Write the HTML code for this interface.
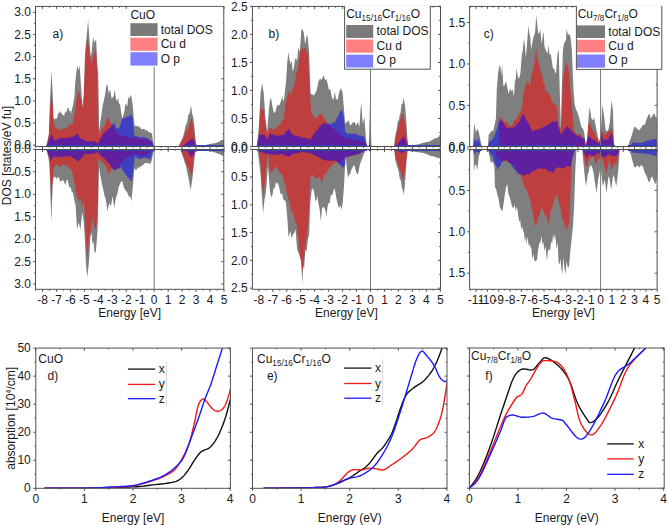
<!DOCTYPE html>
<html><head><meta charset="utf-8"><style>
html,body{margin:0;padding:0;background:#fff;}
svg{display:block;}
text{font-family:"Liberation Sans",sans-serif;fill:#1a1a1a;}
</style></head><body>
<svg width="668" height="525" viewBox="0 0 668 525">
<rect x="0" y="0" width="668" height="525" fill="#fff"/>
<g shape-rendering="geometricPrecision">
<clipPath id="g1"><polygon points="46.3,146.4 46.3,146.0 47.6,139.8 48.9,133.9 49.4,117.7 50.1,98.5 51.4,70.6 52.6,90.9 53.5,117.7 54.4,120.0 55.3,117.9 56.2,119.1 57.2,117.5 58.2,112.7 59.2,113.4 60.2,111.0 61.5,113.4 62.9,115.0 64.1,116.1 65.3,111.1 66.3,113.2 67.3,108.4 68.3,107.0 69.2,110.9 70.1,110.4 71.0,113.7 72.0,108.7 72.9,106.0 74.4,96.2 75.4,80.8 77.2,65.6 78.4,70.6 79.7,65.6 81.0,85.8 82.5,107.0 83.8,93.5 85.0,52.9 86.8,35.2 88.1,20.1 89.8,45.3 90.8,57.3 91.8,50.4 93.1,36.7 94.4,42.8 96.1,39.0 97.2,62.8 98.2,73.2 99.3,131.2 100.4,121.1 101.6,113.6 102.7,105.6 103.8,101.0 105.0,95.0 106.2,86.5 107.4,84.0 108.7,93.5 110.1,89.4 111.7,98.5 112.7,97.6 113.8,95.7 114.8,89.4 115.9,98.5 117.1,101.6 118.2,97.5 119.1,104.5 120.0,103.5 120.9,110.3 122.2,119.1 123.2,115.7 124.3,112.0 125.3,104.6 126.3,104.3 127.3,106.6 128.3,97.2 129.3,98.5 131.0,94.4 132.7,105.2 134.4,125.4 135.7,126.0 136.9,126.2 138.0,125.8 139.1,127.6 140.2,127.0 141.3,129.4 142.5,129.2 143.6,128.7 144.6,128.9 145.6,130.9 146.6,129.4 147.6,130.9 148.6,132.1 149.7,132.4 150.9,132.4 152.0,133.7 153.3,143.8 153.8,146.0 153.8,146.4"/><polygon points="178.7,146.4 178.7,146.0 179.8,143.9 180.9,141.2 182.0,139.4 183.3,135.8 184.7,130.1 185.6,125.7 186.5,124.0 187.4,120.7 188.4,114.5 189.4,114.0 191.1,105.4 192.0,112.7 193.4,118.0 194.7,130.1 196.0,143.4 196.7,145.5 197.7,145.5 198.6,145.5 199.6,145.4 200.5,145.4 201.5,145.5 202.4,145.4 203.4,145.4 204.3,145.1 205.3,145.0 206.2,144.9 207.2,144.6 208.1,144.5 209.1,144.1 210.0,144.1 211.0,143.7 211.9,143.5 212.9,143.7 213.8,143.2 214.8,143.2 215.7,143.1 216.7,142.7 217.7,142.2 218.6,141.8 219.6,141.4 220.5,140.7 221.5,139.8 222.4,140.1 223.4,139.4 223.8,139.0 223.8,146.0 223.8,146.4"/></clipPath>
<polygon points="46.3,146.4 46.3,146.0 47.6,139.8 48.9,133.9 49.4,117.7 50.1,98.5 51.4,70.6 52.6,90.9 53.5,117.7 54.4,120.0 55.3,117.9 56.2,119.1 57.2,117.5 58.2,112.7 59.2,113.4 60.2,111.0 61.5,113.4 62.9,115.0 64.1,116.1 65.3,111.1 66.3,113.2 67.3,108.4 68.3,107.0 69.2,110.9 70.1,110.4 71.0,113.7 72.0,108.7 72.9,106.0 74.4,96.2 75.4,80.8 77.2,65.6 78.4,70.6 79.7,65.6 81.0,85.8 82.5,107.0 83.8,93.5 85.0,52.9 86.8,35.2 88.1,20.1 89.8,45.3 90.8,57.3 91.8,50.4 93.1,36.7 94.4,42.8 96.1,39.0 97.2,62.8 98.2,73.2 99.3,131.2 100.4,121.1 101.6,113.6 102.7,105.6 103.8,101.0 105.0,95.0 106.2,86.5 107.4,84.0 108.7,93.5 110.1,89.4 111.7,98.5 112.7,97.6 113.8,95.7 114.8,89.4 115.9,98.5 117.1,101.6 118.2,97.5 119.1,104.5 120.0,103.5 120.9,110.3 122.2,119.1 123.2,115.7 124.3,112.0 125.3,104.6 126.3,104.3 127.3,106.6 128.3,97.2 129.3,98.5 131.0,94.4 132.7,105.2 134.4,125.4 135.7,126.0 136.9,126.2 138.0,125.8 139.1,127.6 140.2,127.0 141.3,129.4 142.5,129.2 143.6,128.7 144.6,128.9 145.6,130.9 146.6,129.4 147.6,130.9 148.6,132.1 149.7,132.4 150.9,132.4 152.0,133.7 153.3,143.8 153.8,146.0 153.8,146.4" fill="#7f7f7f"/>
<polygon points="178.7,146.4 178.7,146.0 179.8,143.9 180.9,141.2 182.0,139.4 183.3,135.8 184.7,130.1 185.6,125.7 186.5,124.0 187.4,120.7 188.4,114.5 189.4,114.0 191.1,105.4 192.0,112.7 193.4,118.0 194.7,130.1 196.0,143.4 196.7,145.5 197.7,145.5 198.6,145.5 199.6,145.4 200.5,145.4 201.5,145.5 202.4,145.4 203.4,145.4 204.3,145.1 205.3,145.0 206.2,144.9 207.2,144.6 208.1,144.5 209.1,144.1 210.0,144.1 211.0,143.7 211.9,143.5 212.9,143.7 213.8,143.2 214.8,143.2 215.7,143.1 216.7,142.7 217.7,142.2 218.6,141.8 219.6,141.4 220.5,140.7 221.5,139.8 222.4,140.1 223.4,139.4 223.8,139.0 223.8,146.0 223.8,146.4" fill="#7f7f7f"/>
<g clip-path="url(#g1)">
<polygon points="47.6,146.4 47.6,146.0 48.1,140.6 49.1,123.7 50.1,107.0 51.5,92.1 52.8,107.0 54.2,125.8 55.3,127.7 56.4,128.0 57.5,129.9 58.5,129.2 59.5,129.6 60.6,129.8 61.6,128.5 62.7,128.7 63.8,128.3 64.8,128.2 65.9,129.0 67.0,128.5 68.3,125.5 69.6,124.5 70.5,125.2 71.4,123.7 72.3,124.5 73.3,120.8 74.4,115.0 75.4,107.2 76.4,100.2 77.8,93.1 79.1,90.8 80.1,96.7 81.1,98.9 82.1,103.3 83.1,109.6 84.0,84.8 85.0,65.6 86.2,48.4 87.5,37.8 88.7,45.0 89.8,55.5 90.8,58.3 91.8,65.6 93.1,55.0 94.4,52.9 96.1,47.9 97.3,80.0 98.0,120.4 99.3,136.6 100.2,133.5 101.1,130.2 102.0,127.2 102.9,127.4 103.8,126.3 104.7,125.8 105.6,123.5 106.5,119.3 107.4,116.4 108.8,119.6 110.1,121.8 111.0,122.7 111.9,124.9 112.8,125.8 113.8,127.7 114.8,129.4 115.8,131.1 116.8,133.7 117.8,133.5 118.9,135.3 119.9,134.6 121.0,135.3 122.0,136.0 122.9,135.7 123.8,135.8 124.8,136.1 125.7,136.2 126.6,136.5 127.5,137.5 128.5,137.5 129.4,137.7 130.3,137.0 131.2,137.9 132.2,137.4 133.1,138.1 134.0,138.0 134.9,137.7 135.9,138.0 136.8,138.1 137.8,138.7 138.7,138.6 139.6,139.0 140.6,138.5 141.5,139.3 142.5,138.9 143.4,139.3 144.4,139.0 145.3,139.2 146.2,139.3 147.2,140.0 148.1,139.8 149.1,140.1 150.0,140.0 151.0,141.5 152.0,142.8 153.0,144.6 154.0,146.0 154.0,146.4" fill="rgba(255,0,0,0.5)"/>
<polygon points="178.7,146.4 178.7,146.0 179.6,144.3 180.6,142.6 181.5,141.1 182.5,139.5 183.4,138.1 184.5,135.8 185.6,132.9 186.7,130.1 187.6,128.4 188.5,127.2 189.4,124.7 190.4,120.2 191.4,118.0 193.0,124.7 194.3,134.1 196.0,146.0 196.0,146.4" fill="rgba(255,0,0,0.5)"/>
<polygon points="46.3,146.4 46.3,146.0 46.7,144.7 47.7,142.5 48.6,140.2 49.6,138.4 50.5,136.2 51.5,133.9 52.6,136.5 53.7,138.8 54.8,140.6 55.7,140.2 56.6,140.0 57.5,139.6 58.4,138.8 59.3,138.6 60.2,138.0 61.2,137.8 62.1,137.9 63.1,137.7 64.1,138.1 65.1,137.8 66.0,138.2 67.0,138.0 68.0,137.4 68.9,137.8 69.9,137.3 70.8,137.3 71.8,136.6 72.7,136.9 73.7,136.6 74.7,135.8 75.7,134.8 76.7,134.4 77.7,133.9 78.6,135.3 79.5,136.9 80.4,138.0 81.4,138.4 82.3,139.1 83.3,139.7 84.3,139.9 85.3,140.6 86.2,141.0 87.2,141.3 88.2,141.1 89.1,141.1 90.1,141.4 91.0,141.4 92.0,141.1 92.9,141.0 93.9,141.3 94.9,141.8 96.0,142.3 97.0,143.0 98.0,143.3 99.1,141.3 100.1,139.3 101.2,137.8 102.2,135.4 103.3,133.9 104.2,133.2 105.1,131.6 106.0,130.8 106.9,131.0 107.8,130.1 108.7,128.5 109.8,128.0 110.9,127.3 111.9,124.5 113.0,123.9 114.1,123.1 115.0,123.9 115.9,127.2 116.8,128.7 117.7,128.2 118.6,128.2 119.5,127.2 121.0,123.0 122.2,119.0 123.2,117.4 124.2,117.9 125.3,117.6 126.3,117.7 127.3,116.6 128.3,116.0 129.3,117.0 131.0,113.6 132.7,118.7 134.4,135.4 135.4,135.8 136.4,136.3 137.5,136.2 138.5,137.1 139.5,137.5 140.5,137.3 141.6,137.2 142.6,136.9 143.6,137.1 144.6,137.5 145.6,137.7 146.6,137.8 147.6,138.6 148.6,138.8 149.7,139.9 150.7,140.6 151.8,141.5 152.8,142.2 153.6,146.0 153.6,146.4" fill="rgba(0,0,255,0.5)"/>
<polygon points="182.7,146.4 182.7,146.0 183.7,145.2 184.7,144.3 185.7,143.5 186.7,142.7 187.8,141.8 188.9,141.1 190.0,140.1 191.0,139.0 192.0,138.1 193.0,139.3 194.0,140.1 195.0,143.1 196.0,146.0 196.0,146.4" fill="rgba(0,0,255,0.5)"/>
</g>
<clipPath id="g2"><polygon points="46.6,149.3 46.6,149.0 47.5,154.1 48.5,158.2 49.4,163.5 50.6,200.0 51.4,222.0 52.6,185.0 53.2,178.9 54.2,176.8 55.3,176.8 56.3,179.0 57.4,177.4 58.4,176.8 59.4,179.3 60.4,182.0 61.5,180.8 62.5,179.9 63.5,180.5 64.5,183.0 65.5,184.7 66.6,179.9 67.7,179.7 68.7,185.1 69.7,188.3 70.7,187.1 71.8,192.2 72.8,192.3 74.3,200.0 75.7,206.0 77.0,229.4 78.7,222.5 80.5,229.4 82.2,212.2 83.5,219.5 84.8,238.0 86.0,264.9 87.3,277.5 89.1,260.3 90.3,237.1 91.6,232.8 92.5,244.3 93.4,241.4 94.7,253.0 95.9,251.7 97.6,229.4 99.1,166.6 100.2,174.9 101.2,179.9 102.2,185.3 103.2,189.2 104.1,193.8 105.0,197.5 105.9,199.6 107.5,211.4 109.2,203.0 110.9,206.3 112.6,196.3 114.2,208.0 115.9,198.0 117.6,192.9 118.7,187.1 119.7,184.7 120.7,182.2 121.7,181.0 122.7,182.5 123.8,187.6 124.8,189.2 125.8,191.1 126.9,191.8 127.9,194.3 129.1,197.0 130.2,196.3 131.5,201.3 132.7,187.9 134.4,167.8 135.7,170.3 136.9,169.5 138.0,166.5 139.1,168.9 140.2,166.1 141.3,166.6 142.5,165.3 143.6,164.4 144.7,163.0 145.8,163.1 146.9,162.8 148.0,163.5 149.2,163.1 150.3,164.4 152.0,159.4 153.6,149.4 153.8,149.0 153.8,149.3"/><polygon points="180.0,149.3 180.0,149.0 180.3,149.7 181.4,152.5 182.6,156.0 183.8,159.2 184.9,162.9 186.1,166.3 187.2,172.0 188.9,180.0 190.6,190.3 191.7,183.5 192.9,174.3 194.0,162.9 195.2,152.6 196.3,149.7 197.3,149.7 198.3,149.8 199.3,149.9 200.3,150.0 201.3,150.1 202.3,150.2 203.3,150.1 204.3,150.3 205.3,150.4 206.3,150.7 207.3,150.8 208.2,150.8 209.2,151.0 210.2,151.4 211.2,151.4 212.2,151.5 213.1,152.0 214.1,152.3 215.1,152.6 216.1,152.7 217.0,153.4 218.0,153.7 218.9,154.1 219.8,154.1 220.8,155.0 221.7,155.6 222.6,155.4 223.8,156.0 223.8,149.0 223.8,149.3"/></clipPath>
<polygon points="46.6,149.3 46.6,149.0 47.5,154.1 48.5,158.2 49.4,163.5 50.6,200.0 51.4,222.0 52.6,185.0 53.2,178.9 54.2,176.8 55.3,176.8 56.3,179.0 57.4,177.4 58.4,176.8 59.4,179.3 60.4,182.0 61.5,180.8 62.5,179.9 63.5,180.5 64.5,183.0 65.5,184.7 66.6,179.9 67.7,179.7 68.7,185.1 69.7,188.3 70.7,187.1 71.8,192.2 72.8,192.3 74.3,200.0 75.7,206.0 77.0,229.4 78.7,222.5 80.5,229.4 82.2,212.2 83.5,219.5 84.8,238.0 86.0,264.9 87.3,277.5 89.1,260.3 90.3,237.1 91.6,232.8 92.5,244.3 93.4,241.4 94.7,253.0 95.9,251.7 97.6,229.4 99.1,166.6 100.2,174.9 101.2,179.9 102.2,185.3 103.2,189.2 104.1,193.8 105.0,197.5 105.9,199.6 107.5,211.4 109.2,203.0 110.9,206.3 112.6,196.3 114.2,208.0 115.9,198.0 117.6,192.9 118.7,187.1 119.7,184.7 120.7,182.2 121.7,181.0 122.7,182.5 123.8,187.6 124.8,189.2 125.8,191.1 126.9,191.8 127.9,194.3 129.1,197.0 130.2,196.3 131.5,201.3 132.7,187.9 134.4,167.8 135.7,170.3 136.9,169.5 138.0,166.5 139.1,168.9 140.2,166.1 141.3,166.6 142.5,165.3 143.6,164.4 144.7,163.0 145.8,163.1 146.9,162.8 148.0,163.5 149.2,163.1 150.3,164.4 152.0,159.4 153.6,149.4 153.8,149.0 153.8,149.3" fill="#7f7f7f"/>
<polygon points="180.0,149.3 180.0,149.0 180.3,149.7 181.4,152.5 182.6,156.0 183.8,159.2 184.9,162.9 186.1,166.3 187.2,172.0 188.9,180.0 190.6,190.3 191.7,183.5 192.9,174.3 194.0,162.9 195.2,152.6 196.3,149.7 197.3,149.7 198.3,149.8 199.3,149.9 200.3,150.0 201.3,150.1 202.3,150.2 203.3,150.1 204.3,150.3 205.3,150.4 206.3,150.7 207.3,150.8 208.2,150.8 209.2,151.0 210.2,151.4 211.2,151.4 212.2,151.5 213.1,152.0 214.1,152.3 215.1,152.6 216.1,152.7 217.0,153.4 218.0,153.7 218.9,154.1 219.8,154.1 220.8,155.0 221.7,155.6 222.6,155.4 223.8,156.0 223.8,149.0 223.8,149.3" fill="#7f7f7f"/>
<g clip-path="url(#g2)">
<polygon points="46.7,149.3 46.7,149.0 46.7,150.0 47.8,153.5 48.8,156.8 50.1,173.0 51.2,196.4 52.1,199.9 53.2,171.7 54.3,166.6 55.3,166.3 56.3,164.4 57.3,164.5 58.3,165.1 59.4,166.4 60.4,166.6 61.4,165.8 62.5,164.7 63.5,164.5 64.5,164.5 65.6,166.0 66.6,165.5 67.6,165.6 68.7,168.0 69.7,168.6 70.7,169.8 71.7,169.7 73.3,176.8 74.8,185.1 75.8,192.3 76.8,195.7 77.7,197.2 79.1,202.6 80.4,197.2 82.2,207.0 83.9,200.0 85.6,229.4 87.3,260.3 88.2,251.7 89.5,236.6 90.8,229.4 92.5,217.3 93.8,224.5 95.1,229.4 96.8,224.2 98.0,200.0 98.1,160.0 99.1,159.1 100.1,159.4 101.2,161.6 102.2,162.5 103.2,163.0 104.3,164.5 105.3,165.2 106.3,166.6 107.3,171.5 108.4,174.8 109.4,171.7 110.5,171.2 111.5,168.6 112.5,168.0 113.5,169.7 114.5,169.6 115.5,170.0 116.6,169.5 117.6,168.6 118.6,167.3 119.7,165.1 120.7,163.5 121.7,162.5 122.7,161.6 123.8,159.8 124.8,158.9 125.8,158.3 126.8,157.6 127.9,157.8 128.9,156.9 130.0,156.3 131.0,155.8 132.0,155.4 133.0,155.1 134.0,154.4 135.0,154.2 136.0,154.7 136.9,154.5 137.9,154.8 138.8,155.2 139.8,155.1 140.7,155.7 141.7,156.0 142.6,156.0 143.6,156.1 144.5,155.4 145.4,154.7 146.3,154.3 147.2,153.9 148.1,153.0 149.1,152.5 150.0,151.8 150.9,151.1 151.8,150.6 152.7,150.0 153.6,149.4 153.8,149.0 153.8,149.3" fill="rgba(255,0,0,0.5)"/>
<polygon points="179.7,149.3 179.7,149.0 180.7,150.6 181.6,152.0 182.6,153.7 183.7,156.4 184.9,160.3 186.0,162.9 187.0,165.6 187.9,167.5 188.9,168.6 190.1,171.7 191.2,176.6 192.9,168.6 194.0,157.2 195.7,149.0 195.7,149.3" fill="rgba(255,0,0,0.5)"/>
<polygon points="46.6,149.3 46.6,149.0 46.7,150.0 47.9,153.3 49.1,156.3 50.2,158.2 51.2,160.4 52.2,158.7 53.2,156.3 54.2,156.7 55.3,156.9 56.3,157.0 57.3,156.8 58.3,156.9 59.4,157.2 60.4,157.3 61.4,156.7 62.5,156.7 63.5,156.6 64.6,156.2 65.6,156.3 66.6,156.6 67.6,156.4 68.7,156.0 69.7,156.0 70.7,156.3 71.7,156.8 72.7,157.9 73.8,158.4 74.8,158.6 75.8,159.4 76.8,160.8 77.9,161.4 78.9,160.4 80.0,159.5 81.0,158.3 82.0,157.3 83.0,156.4 84.0,154.8 85.0,154.0 86.0,154.0 87.1,154.2 88.1,154.1 89.1,154.1 90.2,154.2 91.2,154.1 92.2,154.0 93.2,153.6 94.2,153.2 95.1,152.9 96.1,152.7 97.1,152.4 98.1,152.2 99.1,153.4 100.2,155.1 101.2,156.3 102.2,156.7 103.2,157.5 104.3,158.2 105.3,159.4 106.3,160.4 107.3,161.8 108.4,163.3 109.4,164.5 110.4,165.1 111.5,167.4 112.5,168.4 113.5,169.7 114.5,170.2 115.5,169.2 116.6,169.0 117.6,168.6 118.6,168.7 119.7,168.0 120.7,166.6 121.7,168.9 122.8,170.8 123.8,171.7 124.8,173.6 125.9,175.0 126.9,175.8 127.9,178.2 129.0,177.8 130.0,179.9 131.0,181.0 132.0,181.0 133.6,166.6 135.0,156.3 136.0,156.8 137.1,157.7 138.1,158.5 139.2,158.4 140.2,159.4 141.2,158.7 142.2,158.3 143.2,157.9 144.2,157.8 145.2,157.7 146.2,158.3 147.2,158.0 148.3,158.6 149.3,159.0 150.3,159.4 151.4,156.0 152.5,152.6 153.6,149.4 153.8,149.0 153.8,149.3" fill="rgba(0,0,255,0.5)"/>
<polygon points="184.9,149.3 184.9,149.0 186.0,150.2 187.2,151.4 188.3,152.6 189.3,154.0 190.2,155.9 191.2,157.2 192.9,154.9 194.6,151.4 195.5,149.0 195.5,149.3" fill="rgba(0,0,255,0.5)"/>
</g>
<clipPath id="g3"><polygon points="256.9,146.4 256.9,146.0 256.9,144.3 257.9,136.2 258.8,127.2 260.5,93.1 262.2,83.4 263.7,93.1 265.4,117.5 267.1,132.1 268.1,119.5 269.1,107.7 270.1,99.3 271.0,98.0 272.7,107.7 273.9,112.7 275.2,112.6 276.2,108.5 277.3,104.9 278.3,105.3 279.3,105.4 280.2,103.3 281.2,100.4 282.2,95.7 283.2,101.5 284.2,98.0 285.1,89.8 286.1,80.9 287.2,63.1 288.4,52.1 289.5,59.8 290.7,64.3 291.7,60.3 292.7,71.4 293.7,68.9 294.9,59.4 296.0,58.2 297.1,60.9 298.3,47.5 299.8,52.1 301.4,29.2 302.5,29.4 303.7,32.2 305.2,44.4 306.4,36.9 307.5,35.3 309.0,50.5 310.5,93.3 312.1,94.8 313.1,94.6 314.0,95.8 315.0,93.5 316.7,90.2 318.4,81.8 320.0,78.4 321.7,80.1 322.7,77.4 323.7,75.1 325.1,80.1 326.4,79.3 327.6,83.5 328.9,90.1 330.1,88.5 331.8,96.9 333.4,100.2 334.8,91.8 335.9,98.5 337.6,100.2 339.3,91.8 341.0,87.7 342.7,93.5 343.5,103.6 345.2,123.7 346.8,122.0 348.5,120.3 350.2,125.4 351.9,123.7 353.1,121.9 354.4,122.0 356.1,125.4 357.7,122.0 359.4,127.0 361.1,101.9 362.8,123.7 364.4,117.0 365.3,130.4 366.1,140.4 367.0,144.6 367.5,146.0 367.5,146.4"/><polygon points="368.9,146.4 368.9,146.0 369.9,105.2 370.4,105.2 371.4,146.0 371.4,146.4"/><polygon points="394.0,146.4 394.0,146.0 394.9,138.6 395.9,132.3 396.9,128.5 397.8,120.9 398.8,120.5 399.7,115.2 400.6,112.6 401.6,103.8 402.6,103.7 403.5,98.0 405.1,105.7 406.4,122.8 407.3,138.0 408.3,145.6 409.2,145.6 410.2,145.4 411.1,145.2 412.1,145.2 413.0,144.9 414.0,145.0 414.9,144.7 415.9,144.7 416.8,144.6 417.8,144.4 418.7,144.3 419.7,143.9 420.6,143.6 421.6,143.2 422.6,143.3 423.5,142.6 424.5,142.7 425.4,142.1 426.4,141.9 427.3,141.9 428.3,141.8 429.2,141.7 430.2,140.9 431.1,140.5 432.1,140.1 433.1,139.6 434.0,138.3 434.9,139.0 435.9,138.0 436.8,137.9 437.8,137.6 438.7,136.8 439.7,134.7 440.6,135.1 440.6,146.0 440.6,146.4"/></clipPath>
<polygon points="256.9,146.4 256.9,146.0 256.9,144.3 257.9,136.2 258.8,127.2 260.5,93.1 262.2,83.4 263.7,93.1 265.4,117.5 267.1,132.1 268.1,119.5 269.1,107.7 270.1,99.3 271.0,98.0 272.7,107.7 273.9,112.7 275.2,112.6 276.2,108.5 277.3,104.9 278.3,105.3 279.3,105.4 280.2,103.3 281.2,100.4 282.2,95.7 283.2,101.5 284.2,98.0 285.1,89.8 286.1,80.9 287.2,63.1 288.4,52.1 289.5,59.8 290.7,64.3 291.7,60.3 292.7,71.4 293.7,68.9 294.9,59.4 296.0,58.2 297.1,60.9 298.3,47.5 299.8,52.1 301.4,29.2 302.5,29.4 303.7,32.2 305.2,44.4 306.4,36.9 307.5,35.3 309.0,50.5 310.5,93.3 312.1,94.8 313.1,94.6 314.0,95.8 315.0,93.5 316.7,90.2 318.4,81.8 320.0,78.4 321.7,80.1 322.7,77.4 323.7,75.1 325.1,80.1 326.4,79.3 327.6,83.5 328.9,90.1 330.1,88.5 331.8,96.9 333.4,100.2 334.8,91.8 335.9,98.5 337.6,100.2 339.3,91.8 341.0,87.7 342.7,93.5 343.5,103.6 345.2,123.7 346.8,122.0 348.5,120.3 350.2,125.4 351.9,123.7 353.1,121.9 354.4,122.0 356.1,125.4 357.7,122.0 359.4,127.0 361.1,101.9 362.8,123.7 364.4,117.0 365.3,130.4 366.1,140.4 367.0,144.6 367.5,146.0 367.5,146.4" fill="#7f7f7f"/>
<polygon points="368.9,146.4 368.9,146.0 369.9,105.2 370.4,105.2 371.4,146.0 371.4,146.4" fill="#7f7f7f"/>
<polygon points="394.0,146.4 394.0,146.0 394.9,138.6 395.9,132.3 396.9,128.5 397.8,120.9 398.8,120.5 399.7,115.2 400.6,112.6 401.6,103.8 402.6,103.7 403.5,98.0 405.1,105.7 406.4,122.8 407.3,138.0 408.3,145.6 409.2,145.6 410.2,145.4 411.1,145.2 412.1,145.2 413.0,144.9 414.0,145.0 414.9,144.7 415.9,144.7 416.8,144.6 417.8,144.4 418.7,144.3 419.7,143.9 420.6,143.6 421.6,143.2 422.6,143.3 423.5,142.6 424.5,142.7 425.4,142.1 426.4,141.9 427.3,141.9 428.3,141.8 429.2,141.7 430.2,140.9 431.1,140.5 432.1,140.1 433.1,139.6 434.0,138.3 434.9,139.0 435.9,138.0 436.8,137.9 437.8,137.6 438.7,136.8 439.7,134.7 440.6,135.1 440.6,146.0 440.6,146.4" fill="#7f7f7f"/>
<g clip-path="url(#g3)">
<polygon points="258.1,146.4 258.1,146.0 258.1,141.9 259.3,127.2 260.5,110.2 261.8,109.2 263.0,107.7 264.2,114.2 265.4,122.4 267.1,134.6 268.1,131.3 269.1,127.2 270.1,128.7 271.0,127.2 272.0,128.2 272.9,129.7 273.9,129.7 274.9,128.8 275.9,127.8 276.8,127.4 277.8,125.9 278.8,124.8 279.8,125.1 280.8,123.0 281.7,121.2 282.7,120.1 283.7,119.9 284.9,109.3 286.1,100.4 287.6,96.0 289.2,90.2 290.4,94.7 291.5,93.3 292.6,88.0 293.7,87.2 294.9,83.6 296.0,73.4 297.1,72.6 298.3,65.8 299.5,57.5 300.6,50.5 302.1,47.5 303.2,48.6 304.4,49.0 305.5,47.0 306.7,52.1 308.2,55.1 309.3,80.0 310.2,96.9 311.2,112.6 312.1,114.5 313.1,113.9 314.1,117.1 315.0,118.7 316.1,117.9 317.3,117.1 318.4,115.3 319.6,115.1 320.9,113.6 322.1,113.9 323.4,117.0 324.5,119.7 325.6,118.9 326.7,122.0 327.8,123.8 329.0,125.0 330.1,125.4 331.1,127.4 332.1,127.8 333.0,129.1 334.0,128.2 335.0,130.0 336.0,130.8 337.0,131.3 338.0,132.6 339.0,133.6 340.0,134.0 341.0,135.1 342.0,136.1 343.0,137.0 344.0,137.5 345.0,138.0 345.9,138.5 346.8,138.4 347.7,138.3 348.6,138.4 349.5,138.6 350.5,139.1 351.4,139.1 352.3,139.8 353.2,139.5 354.1,139.6 355.0,140.0 355.9,140.1 356.8,140.7 357.7,140.6 358.6,140.5 359.5,141.1 360.5,141.3 361.4,141.0 362.3,141.5 363.2,141.5 364.1,142.0 365.0,142.0 366.0,143.9 367.0,146.0 367.0,146.4" fill="rgba(255,0,0,0.5)"/>
<polygon points="394.0,146.4 394.0,146.0 395.0,141.5 395.9,137.1 396.9,132.3 397.8,128.3 398.8,125.8 399.7,120.9 400.9,117.7 402.0,114.7 403.2,113.3 404.1,119.6 405.1,122.8 406.1,131.3 407.0,139.9 408.3,146.0 408.3,146.4" fill="rgba(255,0,0,0.5)"/>
<polygon points="256.9,146.4 256.9,146.0 256.9,144.3 258.1,139.4 259.3,134.6 260.3,134.4 261.3,135.2 262.2,135.1 263.2,134.2 264.2,134.6 265.2,135.9 266.1,137.6 267.1,139.4 268.2,137.8 269.2,135.0 270.3,133.3 271.3,134.3 272.3,134.5 273.4,134.3 274.4,134.6 275.4,135.7 276.4,135.8 277.3,135.4 278.2,135.9 279.1,135.2 280.0,134.9 281.0,135.5 281.9,134.4 282.8,135.1 283.7,134.6 284.8,133.7 285.9,130.9 287.0,130.5 288.1,128.5 289.1,129.5 290.1,131.0 291.2,133.0 292.2,134.6 293.1,134.5 294.1,134.9 295.0,135.8 296.0,135.7 296.9,135.5 297.9,136.6 298.8,136.3 299.8,136.4 300.7,137.0 301.7,137.7 302.7,137.7 303.6,137.7 304.6,137.7 305.6,137.9 306.6,138.3 307.6,138.5 308.5,138.8 309.5,139.0 310.5,139.4 311.4,137.8 312.3,136.6 313.2,134.8 314.1,133.1 315.0,132.1 316.1,131.0 317.3,129.8 318.4,128.7 319.4,126.6 320.4,125.7 321.4,125.6 322.4,123.7 323.4,122.8 324.4,123.9 325.5,123.3 326.6,122.9 327.6,123.7 328.7,123.7 329.7,123.8 330.8,124.5 331.8,123.7 332.9,122.6 334.0,123.1 335.1,122.0 336.2,119.6 337.4,117.6 338.5,115.3 339.6,112.2 340.7,110.5 341.8,110.3 343.5,115.3 345.2,132.1 346.3,132.4 347.4,133.7 348.5,133.7 349.5,133.4 350.4,133.7 351.4,133.7 352.3,133.4 353.3,133.7 354.2,133.6 355.2,133.7 356.2,133.7 357.2,134.7 358.2,135.1 359.2,135.5 360.2,135.4 361.2,135.4 362.3,135.8 363.3,136.3 364.4,137.1 366.1,143.8 367.0,146.0 367.0,146.4" fill="rgba(0,0,255,0.5)"/>
<polygon points="368.8,146.4 368.8,146.0 369.5,140.4 370.5,140.0 371.2,146.0 371.2,146.4" fill="rgba(0,0,255,0.5)"/>
<polygon points="395.0,146.4 395.0,146.0 395.9,145.1 396.9,144.4 397.8,143.6 398.8,142.7 399.7,141.8 400.6,140.2 401.6,139.0 402.6,137.5 403.5,136.1 404.6,138.0 405.8,139.9 407.3,146.0 407.3,146.4" fill="rgba(0,0,255,0.5)"/>
</g>
<clipPath id="g4"><polygon points="257.5,149.3 257.5,149.0 258.9,160.0 260.4,173.0 261.7,193.2 263.1,213.4 264.5,199.5 265.8,193.2 266.8,181.9 267.8,166.2 268.8,176.1 269.8,190.5 271.2,197.2 272.5,195.0 273.9,186.4 274.8,189.0 275.7,181.9 276.6,183.7 278.0,183.0 279.3,187.8 280.6,194.6 282.0,193.2 283.3,199.5 284.6,199.9 285.9,202.4 287.1,215.0 288.6,237.8 290.3,230.9 291.6,238.6 292.9,234.4 294.2,233.0 295.5,229.2 297.2,249.8 298.5,252.8 299.8,256.7 301.1,261.0 302.3,284.2 303.2,265.7 304.1,268.7 305.4,249.4 306.6,251.5 307.9,239.5 309.2,234.4 310.1,205.0 311.6,190.5 313.0,188.0 314.3,193.2 315.3,200.2 316.3,201.2 317.3,195.5 318.3,202.6 319.6,209.0 320.8,221.2 322.0,208.4 323.2,206.8 324.3,207.8 325.3,209.9 326.4,216.4 327.5,207.3 328.5,202.7 329.6,203.6 330.8,194.9 332.0,195.6 333.1,192.4 334.1,188.3 335.2,190.8 336.3,198.1 337.3,202.2 338.4,206.8 339.5,207.5 340.5,205.2 341.6,210.0 342.8,201.9 344.0,186.0 345.6,155.6 346.8,167.8 348.0,178.0 349.1,174.2 350.1,174.4 351.2,170.0 352.3,168.1 353.3,165.7 354.4,165.2 355.5,169.7 356.5,173.1 357.6,174.8 358.7,171.3 359.7,165.3 360.8,162.0 361.9,159.0 362.9,156.4 364.0,154.0 365.0,151.7 366.0,149.0 366.0,149.3"/><polygon points="394.0,149.3 394.0,149.0 395.5,160.9 396.6,164.8 397.8,168.5 398.8,171.7 399.7,178.6 400.7,179.9 401.9,187.7 403.2,191.4 403.9,195.2 405.1,181.8 406.4,162.8 407.7,150.5 408.8,150.7 409.8,151.0 410.9,151.2 411.9,151.4 413.0,151.4 414.0,151.6 414.9,151.7 415.9,151.8 416.8,152.2 417.8,152.3 418.8,152.1 419.7,152.5 420.7,152.5 421.6,152.8 422.6,153.1 423.5,152.8 424.5,153.3 425.4,153.9 426.4,154.0 427.4,154.5 428.3,155.0 429.2,155.6 430.2,155.3 431.2,156.2 432.1,156.2 433.0,155.9 434.0,156.7 434.9,156.6 435.9,158.0 436.8,157.3 437.8,157.7 438.7,158.4 439.7,158.0 440.6,159.0 440.6,149.0 440.6,149.3"/></clipPath>
<polygon points="257.5,149.3 257.5,149.0 258.9,160.0 260.4,173.0 261.7,193.2 263.1,213.4 264.5,199.5 265.8,193.2 266.8,181.9 267.8,166.2 268.8,176.1 269.8,190.5 271.2,197.2 272.5,195.0 273.9,186.4 274.8,189.0 275.7,181.9 276.6,183.7 278.0,183.0 279.3,187.8 280.6,194.6 282.0,193.2 283.3,199.5 284.6,199.9 285.9,202.4 287.1,215.0 288.6,237.8 290.3,230.9 291.6,238.6 292.9,234.4 294.2,233.0 295.5,229.2 297.2,249.8 298.5,252.8 299.8,256.7 301.1,261.0 302.3,284.2 303.2,265.7 304.1,268.7 305.4,249.4 306.6,251.5 307.9,239.5 309.2,234.4 310.1,205.0 311.6,190.5 313.0,188.0 314.3,193.2 315.3,200.2 316.3,201.2 317.3,195.5 318.3,202.6 319.6,209.0 320.8,221.2 322.0,208.4 323.2,206.8 324.3,207.8 325.3,209.9 326.4,216.4 327.5,207.3 328.5,202.7 329.6,203.6 330.8,194.9 332.0,195.6 333.1,192.4 334.1,188.3 335.2,190.8 336.3,198.1 337.3,202.2 338.4,206.8 339.5,207.5 340.5,205.2 341.6,210.0 342.8,201.9 344.0,186.0 345.6,155.6 346.8,167.8 348.0,178.0 349.1,174.2 350.1,174.4 351.2,170.0 352.3,168.1 353.3,165.7 354.4,165.2 355.5,169.7 356.5,173.1 357.6,174.8 358.7,171.3 359.7,165.3 360.8,162.0 361.9,159.0 362.9,156.4 364.0,154.0 365.0,151.7 366.0,149.0 366.0,149.3" fill="#7f7f7f"/>
<polygon points="394.0,149.3 394.0,149.0 395.5,160.9 396.6,164.8 397.8,168.5 398.8,171.7 399.7,178.6 400.7,179.9 401.9,187.7 403.2,191.4 403.9,195.2 405.1,181.8 406.4,162.8 407.7,150.5 408.8,150.7 409.8,151.0 410.9,151.2 411.9,151.4 413.0,151.4 414.0,151.6 414.9,151.7 415.9,151.8 416.8,152.2 417.8,152.3 418.8,152.1 419.7,152.5 420.7,152.5 421.6,152.8 422.6,153.1 423.5,152.8 424.5,153.3 425.4,153.9 426.4,154.0 427.4,154.5 428.3,155.0 429.2,155.6 430.2,155.3 431.2,156.2 432.1,156.2 433.0,155.9 434.0,156.7 434.9,156.6 435.9,158.0 436.8,157.3 437.8,157.7 438.7,158.4 439.7,158.0 440.6,159.0 440.6,149.0 440.6,149.3" fill="#7f7f7f"/>
<g clip-path="url(#g4)">
<polygon points="258.9,149.3 258.9,149.0 259.0,151.4 260.4,162.2 261.7,179.7 263.1,194.5 264.1,188.5 265.1,179.7 266.1,168.6 267.1,159.5 268.5,154.1 269.2,166.2 270.5,173.0 271.5,172.7 272.5,170.3 273.9,169.3 275.2,166.2 276.5,167.5 277.9,168.9 278.8,170.5 279.7,173.0 280.6,173.0 282.0,175.1 283.3,178.3 284.3,182.4 285.3,185.1 286.3,190.9 287.3,196.0 288.6,198.4 290.0,205.0 290.9,210.3 291.8,209.8 292.8,215.2 293.7,212.6 294.6,220.0 295.5,222.3 296.6,225.1 297.8,233.7 298.9,243.0 300.2,257.7 301.5,267.0 302.3,270.4 303.2,268.1 304.1,256.7 305.4,246.1 306.6,237.8 308.4,220.6 309.4,200.0 310.4,178.0 311.6,174.9 312.8,174.8 313.9,176.6 314.9,177.9 316.0,178.0 317.1,178.8 318.1,177.5 319.2,176.4 320.4,178.6 321.6,182.8 322.8,180.2 324.0,174.8 325.1,174.6 326.1,173.6 327.2,171.6 328.3,169.5 329.3,168.7 330.4,166.8 331.5,166.4 332.5,164.7 333.6,163.6 334.7,162.9 335.7,163.3 336.8,162.0 337.9,161.8 338.9,163.0 340.0,163.0 341.0,162.2 342.0,160.4 343.0,159.8 344.0,158.0 345.2,157.2 346.4,157.2 347.3,156.8 348.2,156.7 349.1,156.7 350.1,155.9 351.0,156.4 351.9,155.7 352.8,155.6 353.7,155.1 354.6,154.9 355.5,154.8 356.5,154.4 357.4,154.3 358.3,154.4 359.2,154.0 360.2,153.3 361.1,152.7 362.1,152.0 363.0,151.3 364.0,150.8 365.6,149.0 365.6,149.3" fill="rgba(255,0,0,0.5)"/>
<polygon points="394.0,149.3 394.0,149.0 394.9,154.2 395.9,159.0 396.9,160.8 397.8,163.3 398.8,166.6 399.7,170.1 400.7,171.8 401.6,175.9 402.6,178.7 403.5,180.0 404.4,174.3 405.4,168.5 406.4,159.9 407.3,150.5 407.5,149.0 407.5,149.3" fill="rgba(255,0,0,0.5)"/>
<polygon points="257.5,149.3 257.5,149.0 259.0,151.4 260.0,151.8 261.1,152.1 262.1,152.5 263.1,152.7 264.2,152.9 265.3,153.2 266.3,153.7 267.4,153.7 268.5,154.1 269.5,154.1 270.4,154.5 271.4,154.5 272.3,154.5 273.3,154.5 274.2,154.9 275.2,154.8 276.2,154.9 277.1,154.8 278.1,154.6 279.1,154.5 280.1,154.3 281.0,154.0 282.0,154.1 283.0,154.5 283.9,154.9 284.9,155.5 285.8,155.4 286.8,155.9 287.7,156.1 288.7,156.8 289.7,156.2 290.7,155.2 291.7,154.8 292.7,154.1 293.6,153.7 294.6,153.6 295.6,153.4 296.5,153.4 297.4,153.0 298.4,153.0 299.3,152.6 300.3,152.6 301.2,152.2 302.2,152.1 303.2,152.3 304.1,152.3 305.1,152.4 306.0,152.5 307.0,152.5 307.9,152.6 308.9,152.7 309.9,153.2 310.8,153.4 311.8,153.7 312.7,154.4 313.7,154.9 314.6,155.2 315.6,155.4 316.6,156.0 317.5,156.9 318.5,157.2 319.5,157.9 320.5,158.3 321.4,158.9 322.4,159.5 323.4,160.0 324.3,160.0 325.3,160.4 326.2,160.3 327.2,160.5 328.1,160.7 329.1,160.8 330.1,160.5 331.0,160.7 332.0,160.6 333.0,160.7 334.0,160.5 334.9,160.5 335.9,160.8 336.8,161.6 337.7,162.6 338.6,163.5 339.6,164.6 340.6,165.1 341.6,167.2 342.6,167.6 343.7,166.9 344.8,166.0 346.4,157.2 347.3,157.0 348.2,156.5 349.1,156.6 350.1,156.3 351.0,156.1 351.9,155.6 352.8,155.6 353.7,155.5 354.6,155.2 355.5,154.8 356.5,154.4 357.4,154.7 358.3,154.2 359.2,154.0 360.2,153.4 361.1,152.9 362.1,152.1 363.0,151.4 364.0,150.8 365.6,149.0 365.6,149.3" fill="rgba(0,0,255,0.5)"/>
<polygon points="397.8,149.3 397.8,149.0 397.8,150.5 398.8,151.2 399.7,151.8 400.7,152.6 401.6,153.3 402.6,152.8 403.5,152.3 404.4,151.5 405.4,151.0 405.5,149.0 405.5,149.3" fill="rgba(0,0,255,0.5)"/>
</g>
<clipPath id="g5"><polygon points="473.0,146.4 473.0,146.0 473.7,131.4 474.4,122.9 475.9,132.9 477.3,128.6 478.7,131.4 480.1,138.6 481.6,146.0 481.6,146.4"/><polygon points="488.0,146.4 488.0,146.0 488.7,134.3 489.8,133.9 490.9,131.4 491.9,130.3 493.0,132.1 494.4,125.7 495.9,118.6 496.8,89.0 498.1,73.0 499.5,65.3 500.4,67.1 501.3,75.8 502.1,65.3 503.4,86.3 504.7,84.7 506.0,81.0 507.4,88.0 508.7,94.2 510.0,88.3 511.3,91.6 512.6,89.1 513.9,96.8 514.8,82.4 515.7,78.7 516.6,67.9 517.9,76.9 519.2,78.4 520.5,72.4 521.8,54.7 522.8,50.5 523.9,38.9 524.8,44.6 525.8,57.4 527.1,43.9 528.4,25.8 529.3,33.0 530.2,37.2 531.1,49.5 532.4,42.6 533.7,36.3 535.0,32.9 536.3,15.3 537.2,23.8 538.1,32.8 539.0,33.7 540.3,29.6 541.6,44.2 543.4,31.1 544.5,46.4 545.5,49.5 546.5,52.1 547.5,53.6 548.5,44.9 549.5,54.7 550.8,54.1 552.1,62.6 553.1,69.3 554.1,68.0 555.1,72.2 556.1,73.2 557.4,54.3 558.7,49.5 559.8,93.2 560.9,128.5 561.9,85.6 562.9,50.3 563.9,44.2 565.0,41.5 566.0,40.0 566.6,28.4 567.9,34.7 569.2,33.7 570.5,36.9 571.8,49.5 573.5,90.0 574.7,105.0 576.4,110.3 577.6,112.8 578.9,117.0 580.1,121.5 581.4,127.0 583.1,128.7 584.4,133.7 585.6,145.5 587.2,138.8 588.9,113.6 589.8,106.9 591.4,118.7 593.1,120.3 593.9,117.0 595.6,125.4 597.3,133.7 599.0,143.0 600.7,135.4 602.3,104.4 604.0,115.3 605.7,130.4 607.0,131.0 608.2,130.4 609.9,122.0 611.5,100.2 612.9,110.3 614.1,145.5 614.5,146.0 614.5,146.4"/><polygon points="628.3,146.4 628.3,146.0 629.4,142.1 630.6,138.7 631.7,135.4 633.0,131.0 634.2,127.0 635.5,127.1 636.7,128.7 638.0,129.3 639.2,130.4 640.5,128.4 641.7,127.0 643.0,124.6 644.2,125.4 645.5,122.7 646.7,118.7 648.0,115.8 649.3,113.6 650.9,118.7 652.6,115.3 654.3,113.6 655.5,116.8 656.8,117.0 657.0,146.0 657.0,146.4"/></clipPath>
<polygon points="473.0,146.4 473.0,146.0 473.7,131.4 474.4,122.9 475.9,132.9 477.3,128.6 478.7,131.4 480.1,138.6 481.6,146.0 481.6,146.4" fill="#7f7f7f"/>
<polygon points="488.0,146.4 488.0,146.0 488.7,134.3 489.8,133.9 490.9,131.4 491.9,130.3 493.0,132.1 494.4,125.7 495.9,118.6 496.8,89.0 498.1,73.0 499.5,65.3 500.4,67.1 501.3,75.8 502.1,65.3 503.4,86.3 504.7,84.7 506.0,81.0 507.4,88.0 508.7,94.2 510.0,88.3 511.3,91.6 512.6,89.1 513.9,96.8 514.8,82.4 515.7,78.7 516.6,67.9 517.9,76.9 519.2,78.4 520.5,72.4 521.8,54.7 522.8,50.5 523.9,38.9 524.8,44.6 525.8,57.4 527.1,43.9 528.4,25.8 529.3,33.0 530.2,37.2 531.1,49.5 532.4,42.6 533.7,36.3 535.0,32.9 536.3,15.3 537.2,23.8 538.1,32.8 539.0,33.7 540.3,29.6 541.6,44.2 543.4,31.1 544.5,46.4 545.5,49.5 546.5,52.1 547.5,53.6 548.5,44.9 549.5,54.7 550.8,54.1 552.1,62.6 553.1,69.3 554.1,68.0 555.1,72.2 556.1,73.2 557.4,54.3 558.7,49.5 559.8,93.2 560.9,128.5 561.9,85.6 562.9,50.3 563.9,44.2 565.0,41.5 566.0,40.0 566.6,28.4 567.9,34.7 569.2,33.7 570.5,36.9 571.8,49.5 573.5,90.0 574.7,105.0 576.4,110.3 577.6,112.8 578.9,117.0 580.1,121.5 581.4,127.0 583.1,128.7 584.4,133.7 585.6,145.5 587.2,138.8 588.9,113.6 589.8,106.9 591.4,118.7 593.1,120.3 593.9,117.0 595.6,125.4 597.3,133.7 599.0,143.0 600.7,135.4 602.3,104.4 604.0,115.3 605.7,130.4 607.0,131.0 608.2,130.4 609.9,122.0 611.5,100.2 612.9,110.3 614.1,145.5 614.5,146.0 614.5,146.4" fill="#7f7f7f"/>
<polygon points="628.3,146.4 628.3,146.0 629.4,142.1 630.6,138.7 631.7,135.4 633.0,131.0 634.2,127.0 635.5,127.1 636.7,128.7 638.0,129.3 639.2,130.4 640.5,128.4 641.7,127.0 643.0,124.6 644.2,125.4 645.5,122.7 646.7,118.7 648.0,115.8 649.3,113.6 650.9,118.7 652.6,115.3 654.3,113.6 655.5,116.8 656.8,117.0 657.0,146.0 657.0,146.4" fill="#7f7f7f"/>
<g clip-path="url(#g5)">
<polygon points="499.0,146.4 499.0,146.0 499.1,116.1 500.1,118.5 501.2,116.9 502.2,119.8 503.2,119.6 504.3,122.2 505.3,122.3 506.3,122.3 507.4,122.3 508.4,125.0 509.4,125.7 510.5,126.2 511.5,126.4 512.5,125.0 513.5,121.7 514.5,120.7 515.6,118.1 516.6,119.5 517.6,116.1 518.6,115.8 519.7,112.2 520.8,110.8 521.8,107.9 522.8,100.5 523.8,93.5 524.8,88.2 525.8,84.5 526.9,82.2 527.9,81.2 529.0,82.8 530.0,87.3 531.0,78.4 532.1,72.2 533.1,70.9 534.1,64.9 535.2,55.4 536.2,48.2 537.2,56.6 538.2,61.3 539.2,64.7 540.2,71.6 541.3,70.2 542.3,75.0 543.3,83.3 544.4,83.4 545.4,89.4 546.4,93.6 547.5,90.1 548.5,93.2 549.5,95.6 550.5,95.1 551.6,101.8 552.6,101.7 553.6,103.7 554.7,105.1 555.7,104.7 556.7,105.9 557.8,116.5 558.8,126.4 559.8,127.7 560.9,130.6 561.9,106.0 562.9,81.2 563.9,76.3 565.0,67.6 566.0,60.6 567.0,64.8 568.1,67.0 569.1,72.9 570.1,86.4 571.2,98.2 572.2,110.0 573.2,120.8 574.2,130.6 575.2,132.9 576.3,134.7 577.4,133.9 578.6,134.4 579.7,133.7 580.8,134.4 581.8,135.9 582.9,137.6 583.9,139.1 585.0,140.0 585.6,145.5 586.9,134.9 588.1,123.7 589.8,123.7 591.4,127.0 592.6,130.3 593.9,132.1 595.0,134.2 596.2,136.8 597.3,138.8 598.4,136.2 599.6,134.9 600.7,132.1 602.3,130.4 603.5,132.2 604.8,135.4 605.8,133.9 606.8,133.2 607.9,132.6 608.9,131.0 609.9,130.4 610.9,129.6 611.9,127.0 613.0,136.4 614.1,145.5 614.5,146.0 614.5,146.4" fill="rgba(255,0,0,0.5)"/>
<polygon points="473.0,146.4 473.0,146.0 474.4,138.6 475.5,140.2 476.6,141.4 477.6,140.2 478.7,138.6 479.8,142.5 480.9,146.0 480.9,146.4" fill="rgba(0,0,255,0.5)"/>
<polygon points="488.0,146.4 488.0,146.0 489.4,141.4 490.4,141.1 491.3,140.6 492.3,140.0 493.6,137.3 495.0,134.7 496.0,131.2 497.1,128.4 498.1,123.9 499.1,120.3 500.1,121.1 501.1,120.6 502.2,121.0 503.2,122.3 504.2,123.9 505.2,126.2 506.3,127.7 507.3,128.5 508.2,128.2 509.1,127.9 510.1,127.0 511.0,127.7 511.9,126.7 512.8,127.9 513.8,127.3 514.7,126.3 515.6,126.4 516.6,124.1 517.7,123.4 518.7,122.2 519.7,120.7 520.7,117.7 521.8,117.1 522.8,114.1 523.8,114.3 524.8,116.0 525.9,119.6 526.9,120.8 527.9,122.3 528.9,123.7 530.0,126.0 531.0,129.0 532.0,130.6 532.9,130.9 533.8,130.7 534.8,129.9 535.7,130.1 536.6,130.1 537.5,128.4 538.5,129.8 539.4,127.9 540.3,128.5 541.2,128.6 542.1,128.2 543.0,127.4 543.9,126.4 544.9,126.5 545.8,126.1 546.7,125.2 547.6,125.4 548.5,124.4 549.4,123.0 550.3,123.7 551.2,122.2 552.1,122.1 553.1,121.2 554.0,121.0 554.9,122.2 555.8,121.5 556.7,120.3 557.8,123.9 558.8,127.9 559.9,130.6 560.9,134.7 561.9,133.8 562.9,131.8 564.0,130.3 565.0,129.0 566.0,127.7 567.0,126.4 568.0,126.6 569.1,128.2 570.1,128.7 571.1,130.7 572.2,131.7 573.2,132.6 574.2,133.8 575.1,133.8 576.1,134.7 577.1,135.5 578.1,135.6 579.0,136.0 580.0,136.7 580.9,136.9 581.9,137.5 582.8,138.2 583.8,138.2 584.7,138.8 586.4,145.5 588.1,135.4 589.2,136.3 590.3,137.4 591.4,138.8 592.5,139.4 593.5,139.4 594.5,140.2 595.6,140.4 596.7,141.7 597.9,142.8 599.0,143.8 600.7,133.7 601.8,135.4 602.9,138.3 604.0,140.4 605.0,140.0 606.1,139.6 607.2,138.8 608.2,138.8 609.3,136.5 610.4,134.9 611.5,132.1 612.8,138.9 614.1,145.5 614.5,146.0 614.5,146.4" fill="rgba(0,0,255,0.5)"/>
<polygon points="630.0,146.4 630.0,146.0 631.1,144.8 632.2,143.5 633.3,142.1 634.3,142.4 635.2,142.4 636.2,142.7 637.1,142.7 638.1,142.9 639.0,143.0 640.0,143.0 640.9,142.9 641.9,142.6 642.8,142.0 643.7,141.8 644.7,141.8 645.6,141.2 646.5,140.8 647.5,140.6 648.4,140.4 649.3,140.3 650.3,140.1 651.2,139.7 652.1,139.5 653.1,139.5 654.0,139.6 654.9,139.1 655.9,138.7 656.8,138.8 657.0,146.0 657.0,146.4" fill="rgba(0,0,255,0.5)"/>
</g>
<clipPath id="g6"><polygon points="473.0,149.3 473.0,149.0 473.7,157.1 473.9,171.4 475.1,164.3 476.2,165.5 477.3,170.0 478.7,157.1 479.8,153.3 480.9,149.0 480.9,149.3"/><polygon points="488.0,149.3 488.0,149.0 489.4,155.7 490.9,162.9 491.9,162.1 493.0,161.4 494.4,167.1 494.9,187.1 496.1,189.0 497.4,194.5 498.6,198.5 499.8,206.9 501.1,209.4 502.3,211.8 503.6,203.4 504.8,194.5 506.1,186.7 507.3,184.6 508.5,194.2 509.7,197.0 511.0,202.4 512.2,206.9 513.5,208.1 514.7,204.4 515.6,211.5 516.5,206.8 517.5,209.9 518.4,216.7 519.3,221.9 520.2,220.1 521.2,229.6 522.1,226.6 523.0,230.0 524.0,233.0 524.9,241.9 525.8,236.5 526.7,244.2 527.6,236.2 528.6,245.7 529.5,244.0 530.4,246.8 531.4,248.6 532.3,259.7 533.2,253.9 534.5,260.8 535.7,261.3 537.0,259.8 538.2,248.9 539.5,243.1 540.7,241.5 541.6,236.1 542.5,245.1 543.5,242.0 544.4,251.4 545.6,245.9 546.9,261.3 548.1,250.5 549.3,248.9 550.2,251.2 551.1,241.0 552.1,243.9 553.0,234.1 553.9,240.5 554.9,233.6 555.8,240.7 556.7,248.9 557.7,242.5 558.6,262.5 559.5,264.6 560.5,258.8 561.4,269.6 562.4,273.4 563.3,257.3 564.2,266.2 565.4,274.6 566.6,261.3 567.9,268.0 569.1,266.2 570.4,250.0 571.6,239.0 572.9,226.9 574.1,206.9 575.3,169.7 576.5,149.0 576.5,149.3"/><polygon points="582.2,149.3 582.2,149.0 583.1,159.4 584.7,176.2 586.1,186.2 587.7,174.5 588.8,172.1 589.8,166.1 591.0,165.3 592.3,167.8 593.4,171.4 594.5,179.5 595.5,186.5 596.5,192.9 598.1,179.5 599.4,173.7 600.7,166.1 601.8,177.8 602.8,186.2 603.8,183.5 604.8,179.5 606.5,192.9 607.5,184.6 608.5,176.2 609.4,177.6 610.3,183.8 611.2,189.6 612.4,180.0 613.6,174.5 614.9,180.0 616.2,186.2 617.2,179.6 618.2,171.1 619.6,151.0 620.0,149.0 620.0,149.3"/><polygon points="628.3,149.3 628.3,149.0 629.5,151.6 630.8,154.4 632.5,161.1 634.2,167.0 635.5,167.2 636.7,166.1 638.0,165.2 639.2,167.8 640.5,165.4 641.7,165.3 643.0,166.7 644.2,171.1 645.5,173.9 646.7,176.2 648.4,181.2 649.6,182.5 650.9,177.8 652.1,176.5 653.4,179.5 655.1,184.5 656.8,179.5 657.0,149.0 657.0,149.3"/></clipPath>
<polygon points="473.0,149.3 473.0,149.0 473.7,157.1 473.9,171.4 475.1,164.3 476.2,165.5 477.3,170.0 478.7,157.1 479.8,153.3 480.9,149.0 480.9,149.3" fill="#7f7f7f"/>
<polygon points="488.0,149.3 488.0,149.0 489.4,155.7 490.9,162.9 491.9,162.1 493.0,161.4 494.4,167.1 494.9,187.1 496.1,189.0 497.4,194.5 498.6,198.5 499.8,206.9 501.1,209.4 502.3,211.8 503.6,203.4 504.8,194.5 506.1,186.7 507.3,184.6 508.5,194.2 509.7,197.0 511.0,202.4 512.2,206.9 513.5,208.1 514.7,204.4 515.6,211.5 516.5,206.8 517.5,209.9 518.4,216.7 519.3,221.9 520.2,220.1 521.2,229.6 522.1,226.6 523.0,230.0 524.0,233.0 524.9,241.9 525.8,236.5 526.7,244.2 527.6,236.2 528.6,245.7 529.5,244.0 530.4,246.8 531.4,248.6 532.3,259.7 533.2,253.9 534.5,260.8 535.7,261.3 537.0,259.8 538.2,248.9 539.5,243.1 540.7,241.5 541.6,236.1 542.5,245.1 543.5,242.0 544.4,251.4 545.6,245.9 546.9,261.3 548.1,250.5 549.3,248.9 550.2,251.2 551.1,241.0 552.1,243.9 553.0,234.1 553.9,240.5 554.9,233.6 555.8,240.7 556.7,248.9 557.7,242.5 558.6,262.5 559.5,264.6 560.5,258.8 561.4,269.6 562.4,273.4 563.3,257.3 564.2,266.2 565.4,274.6 566.6,261.3 567.9,268.0 569.1,266.2 570.4,250.0 571.6,239.0 572.9,226.9 574.1,206.9 575.3,169.7 576.5,149.0 576.5,149.3" fill="#7f7f7f"/>
<polygon points="582.2,149.3 582.2,149.0 583.1,159.4 584.7,176.2 586.1,186.2 587.7,174.5 588.8,172.1 589.8,166.1 591.0,165.3 592.3,167.8 593.4,171.4 594.5,179.5 595.5,186.5 596.5,192.9 598.1,179.5 599.4,173.7 600.7,166.1 601.8,177.8 602.8,186.2 603.8,183.5 604.8,179.5 606.5,192.9 607.5,184.6 608.5,176.2 609.4,177.6 610.3,183.8 611.2,189.6 612.4,180.0 613.6,174.5 614.9,180.0 616.2,186.2 617.2,179.6 618.2,171.1 619.6,151.0 620.0,149.0 620.0,149.3" fill="#7f7f7f"/>
<polygon points="628.3,149.3 628.3,149.0 629.5,151.6 630.8,154.4 632.5,161.1 634.2,167.0 635.5,167.2 636.7,166.1 638.0,165.2 639.2,167.8 640.5,165.4 641.7,165.3 643.0,166.7 644.2,171.1 645.5,173.9 646.7,176.2 648.4,181.2 649.6,182.5 650.9,177.8 652.1,176.5 653.4,179.5 655.1,184.5 656.8,179.5 657.0,149.0 657.0,149.3" fill="#7f7f7f"/>
<g clip-path="url(#g6)">
<polygon points="495.0,149.3 495.0,149.0 496.1,156.0 497.1,157.1 498.0,158.2 499.1,158.9 500.1,159.3 501.1,160.4 502.2,160.6 503.2,161.1 504.2,161.0 505.2,161.3 506.3,161.1 507.3,162.0 508.3,161.9 509.3,163.1 510.3,162.7 511.4,162.9 512.4,164.9 513.4,165.7 514.4,165.5 515.4,168.0 516.4,169.5 517.5,170.8 518.5,172.0 519.5,174.2 520.5,175.3 521.7,177.2 522.9,182.6 523.8,185.1 524.8,188.2 525.7,188.2 526.6,189.9 527.5,191.8 528.4,194.8 529.3,198.1 530.2,199.7 531.2,205.9 532.2,209.2 533.2,214.3 534.5,222.2 535.7,226.6 537.0,224.4 538.2,216.7 539.1,215.8 540.0,213.5 541.0,208.6 541.9,206.9 542.8,210.6 543.8,210.7 544.7,215.6 545.6,214.3 546.9,217.7 548.1,224.2 549.4,220.8 550.6,211.8 551.5,207.7 552.5,207.5 553.4,202.1 554.3,199.4 555.5,197.1 556.7,194.5 558.0,198.7 559.2,204.4 560.1,205.6 561.0,212.2 562.0,218.7 562.9,219.2 563.8,220.4 564.8,227.6 565.7,224.3 566.6,231.6 567.9,225.5 569.1,224.2 570.4,194.5 571.6,157.4 572.8,155.0 574.0,152.0 575.0,149.0 575.0,149.3" fill="rgba(255,0,0,0.5)"/>
<polygon points="583.0,149.3 583.0,149.0 583.1,152.7 584.7,161.1 586.4,167.8 587.6,164.4 588.9,159.4 590.0,158.2 591.0,158.0 592.0,156.5 593.1,156.1 594.4,160.2 595.6,164.4 596.9,161.8 598.1,159.4 599.2,158.8 600.4,158.7 601.5,157.7 602.8,161.3 604.0,166.1 605.2,169.5 606.5,172.8 607.8,167.1 609.0,159.4 610.2,164.3 611.5,171.1 612.8,167.1 614.1,162.8 615.0,163.7 616.0,163.5 616.9,164.4 618.0,157.8 619.1,151.0 619.5,149.0 619.5,149.3" fill="rgba(255,0,0,0.5)"/>
<polygon points="473.7,149.3 473.7,149.0 474.4,154.3 475.5,152.8 476.6,151.4 477.5,152.0 478.5,152.3 479.4,152.9 480.9,149.0 480.9,149.3" fill="rgba(0,0,255,0.5)"/>
<polygon points="488.0,149.3 488.0,149.0 489.0,151.2 490.0,153.3 491.2,154.7 492.4,155.8 493.6,159.7 494.9,164.3 495.8,164.8 496.7,167.3 497.6,168.9 498.5,169.2 499.4,166.5 500.4,166.0 501.3,163.5 502.2,161.9 503.1,161.3 504.0,160.8 505.0,160.4 505.9,159.4 506.9,160.3 507.8,161.5 508.8,162.6 509.7,163.1 510.7,164.3 511.7,165.1 512.7,167.2 513.8,167.8 514.8,169.9 515.8,170.4 516.8,172.8 517.7,173.6 518.6,173.5 519.6,174.3 520.5,174.0 521.5,173.8 522.5,175.4 523.4,175.4 524.4,175.7 525.4,175.3 526.4,174.0 527.3,174.6 528.3,174.7 529.2,174.4 530.2,172.8 531.2,172.3 532.2,171.6 533.1,172.3 534.1,169.9 535.1,170.4 536.1,170.5 537.1,169.1 538.0,168.5 539.0,168.7 540.0,168.0 541.1,168.6 542.2,169.1 543.3,168.8 544.4,168.5 545.4,169.6 546.4,168.5 547.3,170.9 548.3,171.2 549.3,171.0 550.2,171.9 551.1,171.1 552.1,172.7 553.0,172.2 553.9,172.0 554.9,169.6 555.8,168.4 556.7,167.3 557.7,168.3 558.7,167.1 559.7,167.8 560.7,167.5 561.7,168.5 562.7,168.4 563.7,167.8 564.6,167.7 565.6,167.2 566.6,166.0 567.5,166.3 568.5,166.4 569.5,166.8 570.4,167.3 571.3,163.2 572.2,159.3 573.2,155.9 574.1,152.4 575.0,149.0 575.0,149.3" fill="rgba(0,0,255,0.5)"/>
<polygon points="583.0,149.3 583.0,149.0 583.1,151.0 584.2,153.1 585.3,155.5 586.4,157.7 587.5,156.6 588.7,155.2 589.8,154.4 590.8,154.8 591.8,155.4 592.8,155.4 593.8,155.8 594.8,156.1 595.9,155.1 597.0,153.7 598.1,152.7 599.2,153.7 600.4,155.2 601.5,156.1 602.6,156.7 603.7,157.0 604.8,157.7 605.9,156.4 607.1,155.4 608.2,154.4 609.2,154.6 610.3,155.2 611.4,155.6 612.4,156.1 613.5,156.4 614.5,156.4 615.5,156.1 616.6,156.1 617.9,153.4 619.1,151.0 619.5,149.0 619.5,149.3" fill="rgba(0,0,255,0.5)"/>
<polygon points="629.1,149.3 629.1,149.0 630.1,149.9 631.2,150.8 632.2,151.7 633.3,152.7 634.2,152.7 635.1,152.9 636.1,153.0 637.0,153.0 637.9,153.0 638.8,153.1 639.7,153.4 640.6,153.3 641.6,153.4 642.5,153.5 643.4,153.5 644.4,153.5 645.3,153.7 646.3,154.1 647.2,154.2 648.2,154.0 649.1,154.3 650.1,154.4 651.1,154.6 652.0,155.1 653.0,155.2 653.9,155.4 654.9,155.5 655.8,155.7 656.8,156.1 657.0,149.0 657.0,149.3" fill="rgba(0,0,255,0.5)"/>
</g>
</g>
<line x1="154.20" y1="67.00" x2="154.20" y2="289.30" stroke="#777" stroke-width="1"/>
<line x1="46.30" y1="145.50" x2="154.00" y2="145.50" stroke="#3040c0" stroke-width="1"/>
<line x1="46.30" y1="150.50" x2="154.00" y2="150.50" stroke="#3040c0" stroke-width="1"/>
<line x1="182.70" y1="145.50" x2="223.80" y2="145.50" stroke="#3040c0" stroke-width="1"/>
<line x1="182.70" y1="150.50" x2="223.80" y2="150.50" stroke="#3040c0" stroke-width="1"/>
<rect x="35.5" y="6.4" width="188.3" height="140.1" fill="none" stroke="#505050" stroke-width="1"/>
<rect x="35.5" y="149.5" width="188.3" height="139.8" fill="none" stroke="#505050" stroke-width="1"/>
<line x1="35.54" y1="289.30" x2="35.54" y2="290.60" stroke="#505050" stroke-width="1"/>
<line x1="35.54" y1="6.40" x2="35.54" y2="7.70" stroke="#505050" stroke-width="1"/>
<line x1="35.54" y1="146.50" x2="35.54" y2="147.80" stroke="#505050" stroke-width="1"/>
<line x1="35.54" y1="149.50" x2="35.54" y2="150.80" stroke="#505050" stroke-width="1"/>
<line x1="42.52" y1="289.30" x2="42.52" y2="291.80" stroke="#505050" stroke-width="1"/>
<line x1="42.52" y1="6.40" x2="42.52" y2="8.90" stroke="#505050" stroke-width="1"/>
<line x1="42.52" y1="146.50" x2="42.52" y2="149.00" stroke="#505050" stroke-width="1"/>
<line x1="42.52" y1="149.50" x2="42.52" y2="152.00" stroke="#505050" stroke-width="1"/>
<text x="42.5" y="304.2" text-anchor="middle" font-size="12" >-8</text>
<line x1="49.50" y1="289.30" x2="49.50" y2="290.60" stroke="#505050" stroke-width="1"/>
<line x1="49.50" y1="6.40" x2="49.50" y2="7.70" stroke="#505050" stroke-width="1"/>
<line x1="49.50" y1="146.50" x2="49.50" y2="147.80" stroke="#505050" stroke-width="1"/>
<line x1="49.50" y1="149.50" x2="49.50" y2="150.80" stroke="#505050" stroke-width="1"/>
<line x1="56.48" y1="289.30" x2="56.48" y2="291.80" stroke="#505050" stroke-width="1"/>
<line x1="56.48" y1="6.40" x2="56.48" y2="8.90" stroke="#505050" stroke-width="1"/>
<line x1="56.48" y1="146.50" x2="56.48" y2="149.00" stroke="#505050" stroke-width="1"/>
<line x1="56.48" y1="149.50" x2="56.48" y2="152.00" stroke="#505050" stroke-width="1"/>
<text x="56.5" y="304.2" text-anchor="middle" font-size="12" >-7</text>
<line x1="63.46" y1="289.30" x2="63.46" y2="290.60" stroke="#505050" stroke-width="1"/>
<line x1="63.46" y1="6.40" x2="63.46" y2="7.70" stroke="#505050" stroke-width="1"/>
<line x1="63.46" y1="146.50" x2="63.46" y2="147.80" stroke="#505050" stroke-width="1"/>
<line x1="63.46" y1="149.50" x2="63.46" y2="150.80" stroke="#505050" stroke-width="1"/>
<line x1="70.44" y1="289.30" x2="70.44" y2="291.80" stroke="#505050" stroke-width="1"/>
<line x1="70.44" y1="6.40" x2="70.44" y2="8.90" stroke="#505050" stroke-width="1"/>
<line x1="70.44" y1="146.50" x2="70.44" y2="149.00" stroke="#505050" stroke-width="1"/>
<line x1="70.44" y1="149.50" x2="70.44" y2="152.00" stroke="#505050" stroke-width="1"/>
<text x="70.4" y="304.2" text-anchor="middle" font-size="12" >-6</text>
<line x1="77.42" y1="289.30" x2="77.42" y2="290.60" stroke="#505050" stroke-width="1"/>
<line x1="77.42" y1="6.40" x2="77.42" y2="7.70" stroke="#505050" stroke-width="1"/>
<line x1="77.42" y1="146.50" x2="77.42" y2="147.80" stroke="#505050" stroke-width="1"/>
<line x1="77.42" y1="149.50" x2="77.42" y2="150.80" stroke="#505050" stroke-width="1"/>
<line x1="84.40" y1="289.30" x2="84.40" y2="291.80" stroke="#505050" stroke-width="1"/>
<line x1="84.40" y1="6.40" x2="84.40" y2="8.90" stroke="#505050" stroke-width="1"/>
<line x1="84.40" y1="146.50" x2="84.40" y2="149.00" stroke="#505050" stroke-width="1"/>
<line x1="84.40" y1="149.50" x2="84.40" y2="152.00" stroke="#505050" stroke-width="1"/>
<text x="84.4" y="304.2" text-anchor="middle" font-size="12" >-5</text>
<line x1="91.38" y1="289.30" x2="91.38" y2="290.60" stroke="#505050" stroke-width="1"/>
<line x1="91.38" y1="6.40" x2="91.38" y2="7.70" stroke="#505050" stroke-width="1"/>
<line x1="91.38" y1="146.50" x2="91.38" y2="147.80" stroke="#505050" stroke-width="1"/>
<line x1="91.38" y1="149.50" x2="91.38" y2="150.80" stroke="#505050" stroke-width="1"/>
<line x1="98.36" y1="289.30" x2="98.36" y2="291.80" stroke="#505050" stroke-width="1"/>
<line x1="98.36" y1="6.40" x2="98.36" y2="8.90" stroke="#505050" stroke-width="1"/>
<line x1="98.36" y1="146.50" x2="98.36" y2="149.00" stroke="#505050" stroke-width="1"/>
<line x1="98.36" y1="149.50" x2="98.36" y2="152.00" stroke="#505050" stroke-width="1"/>
<text x="98.4" y="304.2" text-anchor="middle" font-size="12" >-4</text>
<line x1="105.34" y1="289.30" x2="105.34" y2="290.60" stroke="#505050" stroke-width="1"/>
<line x1="105.34" y1="6.40" x2="105.34" y2="7.70" stroke="#505050" stroke-width="1"/>
<line x1="105.34" y1="146.50" x2="105.34" y2="147.80" stroke="#505050" stroke-width="1"/>
<line x1="105.34" y1="149.50" x2="105.34" y2="150.80" stroke="#505050" stroke-width="1"/>
<line x1="112.32" y1="289.30" x2="112.32" y2="291.80" stroke="#505050" stroke-width="1"/>
<line x1="112.32" y1="6.40" x2="112.32" y2="8.90" stroke="#505050" stroke-width="1"/>
<line x1="112.32" y1="146.50" x2="112.32" y2="149.00" stroke="#505050" stroke-width="1"/>
<line x1="112.32" y1="149.50" x2="112.32" y2="152.00" stroke="#505050" stroke-width="1"/>
<text x="112.3" y="304.2" text-anchor="middle" font-size="12" >-3</text>
<line x1="119.30" y1="289.30" x2="119.30" y2="290.60" stroke="#505050" stroke-width="1"/>
<line x1="119.30" y1="6.40" x2="119.30" y2="7.70" stroke="#505050" stroke-width="1"/>
<line x1="119.30" y1="146.50" x2="119.30" y2="147.80" stroke="#505050" stroke-width="1"/>
<line x1="119.30" y1="149.50" x2="119.30" y2="150.80" stroke="#505050" stroke-width="1"/>
<line x1="126.28" y1="289.30" x2="126.28" y2="291.80" stroke="#505050" stroke-width="1"/>
<line x1="126.28" y1="6.40" x2="126.28" y2="8.90" stroke="#505050" stroke-width="1"/>
<line x1="126.28" y1="146.50" x2="126.28" y2="149.00" stroke="#505050" stroke-width="1"/>
<line x1="126.28" y1="149.50" x2="126.28" y2="152.00" stroke="#505050" stroke-width="1"/>
<text x="126.3" y="304.2" text-anchor="middle" font-size="12" >-2</text>
<line x1="133.26" y1="289.30" x2="133.26" y2="290.60" stroke="#505050" stroke-width="1"/>
<line x1="133.26" y1="6.40" x2="133.26" y2="7.70" stroke="#505050" stroke-width="1"/>
<line x1="133.26" y1="146.50" x2="133.26" y2="147.80" stroke="#505050" stroke-width="1"/>
<line x1="133.26" y1="149.50" x2="133.26" y2="150.80" stroke="#505050" stroke-width="1"/>
<line x1="140.24" y1="289.30" x2="140.24" y2="291.80" stroke="#505050" stroke-width="1"/>
<line x1="140.24" y1="6.40" x2="140.24" y2="8.90" stroke="#505050" stroke-width="1"/>
<line x1="140.24" y1="146.50" x2="140.24" y2="149.00" stroke="#505050" stroke-width="1"/>
<line x1="140.24" y1="149.50" x2="140.24" y2="152.00" stroke="#505050" stroke-width="1"/>
<text x="140.2" y="304.2" text-anchor="middle" font-size="12" >-1</text>
<line x1="147.22" y1="289.30" x2="147.22" y2="290.60" stroke="#505050" stroke-width="1"/>
<line x1="147.22" y1="6.40" x2="147.22" y2="7.70" stroke="#505050" stroke-width="1"/>
<line x1="147.22" y1="146.50" x2="147.22" y2="147.80" stroke="#505050" stroke-width="1"/>
<line x1="147.22" y1="149.50" x2="147.22" y2="150.80" stroke="#505050" stroke-width="1"/>
<line x1="154.20" y1="289.30" x2="154.20" y2="291.80" stroke="#505050" stroke-width="1"/>
<line x1="154.20" y1="6.40" x2="154.20" y2="8.90" stroke="#505050" stroke-width="1"/>
<line x1="154.20" y1="146.50" x2="154.20" y2="149.00" stroke="#505050" stroke-width="1"/>
<line x1="154.20" y1="149.50" x2="154.20" y2="152.00" stroke="#505050" stroke-width="1"/>
<text x="154.2" y="304.2" text-anchor="middle" font-size="12" >0</text>
<line x1="161.18" y1="289.30" x2="161.18" y2="290.60" stroke="#505050" stroke-width="1"/>
<line x1="161.18" y1="6.40" x2="161.18" y2="7.70" stroke="#505050" stroke-width="1"/>
<line x1="161.18" y1="146.50" x2="161.18" y2="147.80" stroke="#505050" stroke-width="1"/>
<line x1="161.18" y1="149.50" x2="161.18" y2="150.80" stroke="#505050" stroke-width="1"/>
<line x1="168.16" y1="289.30" x2="168.16" y2="291.80" stroke="#505050" stroke-width="1"/>
<line x1="168.16" y1="6.40" x2="168.16" y2="8.90" stroke="#505050" stroke-width="1"/>
<line x1="168.16" y1="146.50" x2="168.16" y2="149.00" stroke="#505050" stroke-width="1"/>
<line x1="168.16" y1="149.50" x2="168.16" y2="152.00" stroke="#505050" stroke-width="1"/>
<text x="168.2" y="304.2" text-anchor="middle" font-size="12" >1</text>
<line x1="175.14" y1="289.30" x2="175.14" y2="290.60" stroke="#505050" stroke-width="1"/>
<line x1="175.14" y1="6.40" x2="175.14" y2="7.70" stroke="#505050" stroke-width="1"/>
<line x1="175.14" y1="146.50" x2="175.14" y2="147.80" stroke="#505050" stroke-width="1"/>
<line x1="175.14" y1="149.50" x2="175.14" y2="150.80" stroke="#505050" stroke-width="1"/>
<line x1="182.12" y1="289.30" x2="182.12" y2="291.80" stroke="#505050" stroke-width="1"/>
<line x1="182.12" y1="6.40" x2="182.12" y2="8.90" stroke="#505050" stroke-width="1"/>
<line x1="182.12" y1="146.50" x2="182.12" y2="149.00" stroke="#505050" stroke-width="1"/>
<line x1="182.12" y1="149.50" x2="182.12" y2="152.00" stroke="#505050" stroke-width="1"/>
<text x="182.1" y="304.2" text-anchor="middle" font-size="12" >2</text>
<line x1="189.10" y1="289.30" x2="189.10" y2="290.60" stroke="#505050" stroke-width="1"/>
<line x1="189.10" y1="6.40" x2="189.10" y2="7.70" stroke="#505050" stroke-width="1"/>
<line x1="189.10" y1="146.50" x2="189.10" y2="147.80" stroke="#505050" stroke-width="1"/>
<line x1="189.10" y1="149.50" x2="189.10" y2="150.80" stroke="#505050" stroke-width="1"/>
<line x1="196.08" y1="289.30" x2="196.08" y2="291.80" stroke="#505050" stroke-width="1"/>
<line x1="196.08" y1="6.40" x2="196.08" y2="8.90" stroke="#505050" stroke-width="1"/>
<line x1="196.08" y1="146.50" x2="196.08" y2="149.00" stroke="#505050" stroke-width="1"/>
<line x1="196.08" y1="149.50" x2="196.08" y2="152.00" stroke="#505050" stroke-width="1"/>
<text x="196.1" y="304.2" text-anchor="middle" font-size="12" >3</text>
<line x1="203.06" y1="289.30" x2="203.06" y2="290.60" stroke="#505050" stroke-width="1"/>
<line x1="203.06" y1="6.40" x2="203.06" y2="7.70" stroke="#505050" stroke-width="1"/>
<line x1="203.06" y1="146.50" x2="203.06" y2="147.80" stroke="#505050" stroke-width="1"/>
<line x1="203.06" y1="149.50" x2="203.06" y2="150.80" stroke="#505050" stroke-width="1"/>
<line x1="210.04" y1="289.30" x2="210.04" y2="291.80" stroke="#505050" stroke-width="1"/>
<line x1="210.04" y1="6.40" x2="210.04" y2="8.90" stroke="#505050" stroke-width="1"/>
<line x1="210.04" y1="146.50" x2="210.04" y2="149.00" stroke="#505050" stroke-width="1"/>
<line x1="210.04" y1="149.50" x2="210.04" y2="152.00" stroke="#505050" stroke-width="1"/>
<text x="210.0" y="304.2" text-anchor="middle" font-size="12" >4</text>
<line x1="217.02" y1="289.30" x2="217.02" y2="290.60" stroke="#505050" stroke-width="1"/>
<line x1="217.02" y1="6.40" x2="217.02" y2="7.70" stroke="#505050" stroke-width="1"/>
<line x1="217.02" y1="146.50" x2="217.02" y2="147.80" stroke="#505050" stroke-width="1"/>
<line x1="217.02" y1="149.50" x2="217.02" y2="150.80" stroke="#505050" stroke-width="1"/>
<line x1="224.00" y1="289.30" x2="224.00" y2="291.80" stroke="#505050" stroke-width="1"/>
<line x1="224.00" y1="6.40" x2="224.00" y2="8.90" stroke="#505050" stroke-width="1"/>
<line x1="224.00" y1="146.50" x2="224.00" y2="149.00" stroke="#505050" stroke-width="1"/>
<line x1="224.00" y1="149.50" x2="224.00" y2="152.00" stroke="#505050" stroke-width="1"/>
<text x="224.0" y="304.2" text-anchor="middle" font-size="12" >5</text>
<line x1="33.00" y1="145.20" x2="35.50" y2="145.20" stroke="#505050" stroke-width="1"/>
<line x1="221.30" y1="145.20" x2="223.80" y2="145.20" stroke="#505050" stroke-width="1"/>
<text x="31.0" y="149.3" text-anchor="end" font-size="12" >0.0</text>
<line x1="34.20" y1="134.12" x2="35.50" y2="134.12" stroke="#505050" stroke-width="1"/>
<line x1="222.50" y1="134.12" x2="223.80" y2="134.12" stroke="#505050" stroke-width="1"/>
<line x1="33.00" y1="123.05" x2="35.50" y2="123.05" stroke="#505050" stroke-width="1"/>
<line x1="221.30" y1="123.05" x2="223.80" y2="123.05" stroke="#505050" stroke-width="1"/>
<text x="31.0" y="127.1" text-anchor="end" font-size="12" >0.5</text>
<line x1="34.20" y1="111.97" x2="35.50" y2="111.97" stroke="#505050" stroke-width="1"/>
<line x1="222.50" y1="111.97" x2="223.80" y2="111.97" stroke="#505050" stroke-width="1"/>
<line x1="33.00" y1="100.90" x2="35.50" y2="100.90" stroke="#505050" stroke-width="1"/>
<line x1="221.30" y1="100.90" x2="223.80" y2="100.90" stroke="#505050" stroke-width="1"/>
<text x="31.0" y="105.0" text-anchor="end" font-size="12" >1.0</text>
<line x1="34.20" y1="89.82" x2="35.50" y2="89.82" stroke="#505050" stroke-width="1"/>
<line x1="222.50" y1="89.82" x2="223.80" y2="89.82" stroke="#505050" stroke-width="1"/>
<line x1="33.00" y1="78.75" x2="35.50" y2="78.75" stroke="#505050" stroke-width="1"/>
<line x1="221.30" y1="78.75" x2="223.80" y2="78.75" stroke="#505050" stroke-width="1"/>
<text x="31.0" y="82.8" text-anchor="end" font-size="12" >1.5</text>
<line x1="34.20" y1="67.67" x2="35.50" y2="67.67" stroke="#505050" stroke-width="1"/>
<line x1="222.50" y1="67.67" x2="223.80" y2="67.67" stroke="#505050" stroke-width="1"/>
<line x1="33.00" y1="56.60" x2="35.50" y2="56.60" stroke="#505050" stroke-width="1"/>
<line x1="221.30" y1="56.60" x2="223.80" y2="56.60" stroke="#505050" stroke-width="1"/>
<text x="31.0" y="60.7" text-anchor="end" font-size="12" >2.0</text>
<line x1="34.20" y1="45.52" x2="35.50" y2="45.52" stroke="#505050" stroke-width="1"/>
<line x1="222.50" y1="45.52" x2="223.80" y2="45.52" stroke="#505050" stroke-width="1"/>
<line x1="33.00" y1="34.45" x2="35.50" y2="34.45" stroke="#505050" stroke-width="1"/>
<line x1="221.30" y1="34.45" x2="223.80" y2="34.45" stroke="#505050" stroke-width="1"/>
<text x="31.0" y="38.5" text-anchor="end" font-size="12" >2.5</text>
<line x1="34.20" y1="23.38" x2="35.50" y2="23.38" stroke="#505050" stroke-width="1"/>
<line x1="222.50" y1="23.38" x2="223.80" y2="23.38" stroke="#505050" stroke-width="1"/>
<line x1="33.00" y1="12.30" x2="35.50" y2="12.30" stroke="#505050" stroke-width="1"/>
<line x1="221.30" y1="12.30" x2="223.80" y2="12.30" stroke="#505050" stroke-width="1"/>
<text x="31.0" y="16.4" text-anchor="end" font-size="12" >3.0</text>
<line x1="33.00" y1="149.30" x2="35.50" y2="149.30" stroke="#505050" stroke-width="1"/>
<line x1="221.30" y1="149.30" x2="223.80" y2="149.30" stroke="#505050" stroke-width="1"/>
<text x="31.0" y="153.4" text-anchor="end" font-size="12" >0.0</text>
<line x1="34.20" y1="160.53" x2="35.50" y2="160.53" stroke="#505050" stroke-width="1"/>
<line x1="222.50" y1="160.53" x2="223.80" y2="160.53" stroke="#505050" stroke-width="1"/>
<line x1="33.00" y1="171.77" x2="35.50" y2="171.77" stroke="#505050" stroke-width="1"/>
<line x1="221.30" y1="171.77" x2="223.80" y2="171.77" stroke="#505050" stroke-width="1"/>
<text x="31.0" y="175.9" text-anchor="end" font-size="12" >0.5</text>
<line x1="34.20" y1="183.00" x2="35.50" y2="183.00" stroke="#505050" stroke-width="1"/>
<line x1="222.50" y1="183.00" x2="223.80" y2="183.00" stroke="#505050" stroke-width="1"/>
<line x1="33.00" y1="194.23" x2="35.50" y2="194.23" stroke="#505050" stroke-width="1"/>
<line x1="221.30" y1="194.23" x2="223.80" y2="194.23" stroke="#505050" stroke-width="1"/>
<text x="31.0" y="198.3" text-anchor="end" font-size="12" >1.0</text>
<line x1="34.20" y1="205.46" x2="35.50" y2="205.46" stroke="#505050" stroke-width="1"/>
<line x1="222.50" y1="205.46" x2="223.80" y2="205.46" stroke="#505050" stroke-width="1"/>
<line x1="33.00" y1="216.69" x2="35.50" y2="216.69" stroke="#505050" stroke-width="1"/>
<line x1="221.30" y1="216.69" x2="223.80" y2="216.69" stroke="#505050" stroke-width="1"/>
<text x="31.0" y="220.8" text-anchor="end" font-size="12" >1.5</text>
<line x1="34.20" y1="227.93" x2="35.50" y2="227.93" stroke="#505050" stroke-width="1"/>
<line x1="222.50" y1="227.93" x2="223.80" y2="227.93" stroke="#505050" stroke-width="1"/>
<line x1="33.00" y1="239.16" x2="35.50" y2="239.16" stroke="#505050" stroke-width="1"/>
<line x1="221.30" y1="239.16" x2="223.80" y2="239.16" stroke="#505050" stroke-width="1"/>
<text x="31.0" y="243.3" text-anchor="end" font-size="12" >2.0</text>
<line x1="34.20" y1="250.39" x2="35.50" y2="250.39" stroke="#505050" stroke-width="1"/>
<line x1="222.50" y1="250.39" x2="223.80" y2="250.39" stroke="#505050" stroke-width="1"/>
<line x1="33.00" y1="261.62" x2="35.50" y2="261.62" stroke="#505050" stroke-width="1"/>
<line x1="221.30" y1="261.62" x2="223.80" y2="261.62" stroke="#505050" stroke-width="1"/>
<text x="31.0" y="265.7" text-anchor="end" font-size="12" >2.5</text>
<line x1="34.20" y1="272.86" x2="35.50" y2="272.86" stroke="#505050" stroke-width="1"/>
<line x1="222.50" y1="272.86" x2="223.80" y2="272.86" stroke="#505050" stroke-width="1"/>
<line x1="33.00" y1="284.09" x2="35.50" y2="284.09" stroke="#505050" stroke-width="1"/>
<line x1="221.30" y1="284.09" x2="223.80" y2="284.09" stroke="#505050" stroke-width="1"/>
<text x="31.0" y="288.2" text-anchor="end" font-size="12" >3.0</text>
<text x="129.7" y="317.2" text-anchor="middle" font-size="12" >Energy [eV]</text>
<line x1="370.50" y1="67.00" x2="370.50" y2="289.30" stroke="#777" stroke-width="1"/>
<line x1="256.90" y1="145.50" x2="367.00" y2="145.50" stroke="#3040c0" stroke-width="1"/>
<line x1="256.90" y1="150.50" x2="367.00" y2="150.50" stroke="#3040c0" stroke-width="1"/>
<line x1="368.80" y1="145.50" x2="371.20" y2="145.50" stroke="#3040c0" stroke-width="1"/>
<line x1="368.80" y1="150.50" x2="371.20" y2="150.50" stroke="#3040c0" stroke-width="1"/>
<line x1="395.00" y1="145.50" x2="440.50" y2="145.50" stroke="#3040c0" stroke-width="1"/>
<line x1="395.00" y1="150.50" x2="440.50" y2="150.50" stroke="#3040c0" stroke-width="1"/>
<rect x="252.4" y="6.4" width="188.1" height="140.1" fill="none" stroke="#505050" stroke-width="1"/>
<rect x="252.4" y="149.5" width="188.1" height="139.8" fill="none" stroke="#505050" stroke-width="1"/>
<line x1="258.82" y1="289.30" x2="258.82" y2="291.80" stroke="#505050" stroke-width="1"/>
<line x1="258.82" y1="6.40" x2="258.82" y2="8.90" stroke="#505050" stroke-width="1"/>
<line x1="258.82" y1="146.50" x2="258.82" y2="149.00" stroke="#505050" stroke-width="1"/>
<line x1="258.82" y1="149.50" x2="258.82" y2="152.00" stroke="#505050" stroke-width="1"/>
<text x="258.8" y="304.2" text-anchor="middle" font-size="12" >-8</text>
<line x1="265.80" y1="289.30" x2="265.80" y2="290.60" stroke="#505050" stroke-width="1"/>
<line x1="265.80" y1="6.40" x2="265.80" y2="7.70" stroke="#505050" stroke-width="1"/>
<line x1="265.80" y1="146.50" x2="265.80" y2="147.80" stroke="#505050" stroke-width="1"/>
<line x1="265.80" y1="149.50" x2="265.80" y2="150.80" stroke="#505050" stroke-width="1"/>
<line x1="272.78" y1="289.30" x2="272.78" y2="291.80" stroke="#505050" stroke-width="1"/>
<line x1="272.78" y1="6.40" x2="272.78" y2="8.90" stroke="#505050" stroke-width="1"/>
<line x1="272.78" y1="146.50" x2="272.78" y2="149.00" stroke="#505050" stroke-width="1"/>
<line x1="272.78" y1="149.50" x2="272.78" y2="152.00" stroke="#505050" stroke-width="1"/>
<text x="272.8" y="304.2" text-anchor="middle" font-size="12" >-7</text>
<line x1="279.76" y1="289.30" x2="279.76" y2="290.60" stroke="#505050" stroke-width="1"/>
<line x1="279.76" y1="6.40" x2="279.76" y2="7.70" stroke="#505050" stroke-width="1"/>
<line x1="279.76" y1="146.50" x2="279.76" y2="147.80" stroke="#505050" stroke-width="1"/>
<line x1="279.76" y1="149.50" x2="279.76" y2="150.80" stroke="#505050" stroke-width="1"/>
<line x1="286.74" y1="289.30" x2="286.74" y2="291.80" stroke="#505050" stroke-width="1"/>
<line x1="286.74" y1="6.40" x2="286.74" y2="8.90" stroke="#505050" stroke-width="1"/>
<line x1="286.74" y1="146.50" x2="286.74" y2="149.00" stroke="#505050" stroke-width="1"/>
<line x1="286.74" y1="149.50" x2="286.74" y2="152.00" stroke="#505050" stroke-width="1"/>
<text x="286.7" y="304.2" text-anchor="middle" font-size="12" >-6</text>
<line x1="293.72" y1="289.30" x2="293.72" y2="290.60" stroke="#505050" stroke-width="1"/>
<line x1="293.72" y1="6.40" x2="293.72" y2="7.70" stroke="#505050" stroke-width="1"/>
<line x1="293.72" y1="146.50" x2="293.72" y2="147.80" stroke="#505050" stroke-width="1"/>
<line x1="293.72" y1="149.50" x2="293.72" y2="150.80" stroke="#505050" stroke-width="1"/>
<line x1="300.70" y1="289.30" x2="300.70" y2="291.80" stroke="#505050" stroke-width="1"/>
<line x1="300.70" y1="6.40" x2="300.70" y2="8.90" stroke="#505050" stroke-width="1"/>
<line x1="300.70" y1="146.50" x2="300.70" y2="149.00" stroke="#505050" stroke-width="1"/>
<line x1="300.70" y1="149.50" x2="300.70" y2="152.00" stroke="#505050" stroke-width="1"/>
<text x="300.7" y="304.2" text-anchor="middle" font-size="12" >-5</text>
<line x1="307.68" y1="289.30" x2="307.68" y2="290.60" stroke="#505050" stroke-width="1"/>
<line x1="307.68" y1="6.40" x2="307.68" y2="7.70" stroke="#505050" stroke-width="1"/>
<line x1="307.68" y1="146.50" x2="307.68" y2="147.80" stroke="#505050" stroke-width="1"/>
<line x1="307.68" y1="149.50" x2="307.68" y2="150.80" stroke="#505050" stroke-width="1"/>
<line x1="314.66" y1="289.30" x2="314.66" y2="291.80" stroke="#505050" stroke-width="1"/>
<line x1="314.66" y1="6.40" x2="314.66" y2="8.90" stroke="#505050" stroke-width="1"/>
<line x1="314.66" y1="146.50" x2="314.66" y2="149.00" stroke="#505050" stroke-width="1"/>
<line x1="314.66" y1="149.50" x2="314.66" y2="152.00" stroke="#505050" stroke-width="1"/>
<text x="314.7" y="304.2" text-anchor="middle" font-size="12" >-4</text>
<line x1="321.64" y1="289.30" x2="321.64" y2="290.60" stroke="#505050" stroke-width="1"/>
<line x1="321.64" y1="6.40" x2="321.64" y2="7.70" stroke="#505050" stroke-width="1"/>
<line x1="321.64" y1="146.50" x2="321.64" y2="147.80" stroke="#505050" stroke-width="1"/>
<line x1="321.64" y1="149.50" x2="321.64" y2="150.80" stroke="#505050" stroke-width="1"/>
<line x1="328.62" y1="289.30" x2="328.62" y2="291.80" stroke="#505050" stroke-width="1"/>
<line x1="328.62" y1="6.40" x2="328.62" y2="8.90" stroke="#505050" stroke-width="1"/>
<line x1="328.62" y1="146.50" x2="328.62" y2="149.00" stroke="#505050" stroke-width="1"/>
<line x1="328.62" y1="149.50" x2="328.62" y2="152.00" stroke="#505050" stroke-width="1"/>
<text x="328.6" y="304.2" text-anchor="middle" font-size="12" >-3</text>
<line x1="335.60" y1="289.30" x2="335.60" y2="290.60" stroke="#505050" stroke-width="1"/>
<line x1="335.60" y1="6.40" x2="335.60" y2="7.70" stroke="#505050" stroke-width="1"/>
<line x1="335.60" y1="146.50" x2="335.60" y2="147.80" stroke="#505050" stroke-width="1"/>
<line x1="335.60" y1="149.50" x2="335.60" y2="150.80" stroke="#505050" stroke-width="1"/>
<line x1="342.58" y1="289.30" x2="342.58" y2="291.80" stroke="#505050" stroke-width="1"/>
<line x1="342.58" y1="6.40" x2="342.58" y2="8.90" stroke="#505050" stroke-width="1"/>
<line x1="342.58" y1="146.50" x2="342.58" y2="149.00" stroke="#505050" stroke-width="1"/>
<line x1="342.58" y1="149.50" x2="342.58" y2="152.00" stroke="#505050" stroke-width="1"/>
<text x="342.6" y="304.2" text-anchor="middle" font-size="12" >-2</text>
<line x1="349.56" y1="289.30" x2="349.56" y2="290.60" stroke="#505050" stroke-width="1"/>
<line x1="349.56" y1="6.40" x2="349.56" y2="7.70" stroke="#505050" stroke-width="1"/>
<line x1="349.56" y1="146.50" x2="349.56" y2="147.80" stroke="#505050" stroke-width="1"/>
<line x1="349.56" y1="149.50" x2="349.56" y2="150.80" stroke="#505050" stroke-width="1"/>
<line x1="356.54" y1="289.30" x2="356.54" y2="291.80" stroke="#505050" stroke-width="1"/>
<line x1="356.54" y1="6.40" x2="356.54" y2="8.90" stroke="#505050" stroke-width="1"/>
<line x1="356.54" y1="146.50" x2="356.54" y2="149.00" stroke="#505050" stroke-width="1"/>
<line x1="356.54" y1="149.50" x2="356.54" y2="152.00" stroke="#505050" stroke-width="1"/>
<text x="356.5" y="304.2" text-anchor="middle" font-size="12" >-1</text>
<line x1="363.52" y1="289.30" x2="363.52" y2="290.60" stroke="#505050" stroke-width="1"/>
<line x1="363.52" y1="6.40" x2="363.52" y2="7.70" stroke="#505050" stroke-width="1"/>
<line x1="363.52" y1="146.50" x2="363.52" y2="147.80" stroke="#505050" stroke-width="1"/>
<line x1="363.52" y1="149.50" x2="363.52" y2="150.80" stroke="#505050" stroke-width="1"/>
<line x1="370.50" y1="289.30" x2="370.50" y2="291.80" stroke="#505050" stroke-width="1"/>
<line x1="370.50" y1="6.40" x2="370.50" y2="8.90" stroke="#505050" stroke-width="1"/>
<line x1="370.50" y1="146.50" x2="370.50" y2="149.00" stroke="#505050" stroke-width="1"/>
<line x1="370.50" y1="149.50" x2="370.50" y2="152.00" stroke="#505050" stroke-width="1"/>
<text x="370.5" y="304.2" text-anchor="middle" font-size="12" >0</text>
<line x1="377.48" y1="289.30" x2="377.48" y2="290.60" stroke="#505050" stroke-width="1"/>
<line x1="377.48" y1="6.40" x2="377.48" y2="7.70" stroke="#505050" stroke-width="1"/>
<line x1="377.48" y1="146.50" x2="377.48" y2="147.80" stroke="#505050" stroke-width="1"/>
<line x1="377.48" y1="149.50" x2="377.48" y2="150.80" stroke="#505050" stroke-width="1"/>
<line x1="384.46" y1="289.30" x2="384.46" y2="291.80" stroke="#505050" stroke-width="1"/>
<line x1="384.46" y1="6.40" x2="384.46" y2="8.90" stroke="#505050" stroke-width="1"/>
<line x1="384.46" y1="146.50" x2="384.46" y2="149.00" stroke="#505050" stroke-width="1"/>
<line x1="384.46" y1="149.50" x2="384.46" y2="152.00" stroke="#505050" stroke-width="1"/>
<text x="384.5" y="304.2" text-anchor="middle" font-size="12" >1</text>
<line x1="391.44" y1="289.30" x2="391.44" y2="290.60" stroke="#505050" stroke-width="1"/>
<line x1="391.44" y1="6.40" x2="391.44" y2="7.70" stroke="#505050" stroke-width="1"/>
<line x1="391.44" y1="146.50" x2="391.44" y2="147.80" stroke="#505050" stroke-width="1"/>
<line x1="391.44" y1="149.50" x2="391.44" y2="150.80" stroke="#505050" stroke-width="1"/>
<line x1="398.42" y1="289.30" x2="398.42" y2="291.80" stroke="#505050" stroke-width="1"/>
<line x1="398.42" y1="6.40" x2="398.42" y2="8.90" stroke="#505050" stroke-width="1"/>
<line x1="398.42" y1="146.50" x2="398.42" y2="149.00" stroke="#505050" stroke-width="1"/>
<line x1="398.42" y1="149.50" x2="398.42" y2="152.00" stroke="#505050" stroke-width="1"/>
<text x="398.4" y="304.2" text-anchor="middle" font-size="12" >2</text>
<line x1="405.40" y1="289.30" x2="405.40" y2="290.60" stroke="#505050" stroke-width="1"/>
<line x1="405.40" y1="6.40" x2="405.40" y2="7.70" stroke="#505050" stroke-width="1"/>
<line x1="405.40" y1="146.50" x2="405.40" y2="147.80" stroke="#505050" stroke-width="1"/>
<line x1="405.40" y1="149.50" x2="405.40" y2="150.80" stroke="#505050" stroke-width="1"/>
<line x1="412.38" y1="289.30" x2="412.38" y2="291.80" stroke="#505050" stroke-width="1"/>
<line x1="412.38" y1="6.40" x2="412.38" y2="8.90" stroke="#505050" stroke-width="1"/>
<line x1="412.38" y1="146.50" x2="412.38" y2="149.00" stroke="#505050" stroke-width="1"/>
<line x1="412.38" y1="149.50" x2="412.38" y2="152.00" stroke="#505050" stroke-width="1"/>
<text x="412.4" y="304.2" text-anchor="middle" font-size="12" >3</text>
<line x1="419.36" y1="289.30" x2="419.36" y2="290.60" stroke="#505050" stroke-width="1"/>
<line x1="419.36" y1="6.40" x2="419.36" y2="7.70" stroke="#505050" stroke-width="1"/>
<line x1="419.36" y1="146.50" x2="419.36" y2="147.80" stroke="#505050" stroke-width="1"/>
<line x1="419.36" y1="149.50" x2="419.36" y2="150.80" stroke="#505050" stroke-width="1"/>
<line x1="426.34" y1="289.30" x2="426.34" y2="291.80" stroke="#505050" stroke-width="1"/>
<line x1="426.34" y1="6.40" x2="426.34" y2="8.90" stroke="#505050" stroke-width="1"/>
<line x1="426.34" y1="146.50" x2="426.34" y2="149.00" stroke="#505050" stroke-width="1"/>
<line x1="426.34" y1="149.50" x2="426.34" y2="152.00" stroke="#505050" stroke-width="1"/>
<text x="426.3" y="304.2" text-anchor="middle" font-size="12" >4</text>
<line x1="433.32" y1="289.30" x2="433.32" y2="290.60" stroke="#505050" stroke-width="1"/>
<line x1="433.32" y1="6.40" x2="433.32" y2="7.70" stroke="#505050" stroke-width="1"/>
<line x1="433.32" y1="146.50" x2="433.32" y2="147.80" stroke="#505050" stroke-width="1"/>
<line x1="433.32" y1="149.50" x2="433.32" y2="150.80" stroke="#505050" stroke-width="1"/>
<line x1="440.30" y1="289.30" x2="440.30" y2="291.80" stroke="#505050" stroke-width="1"/>
<line x1="440.30" y1="6.40" x2="440.30" y2="8.90" stroke="#505050" stroke-width="1"/>
<line x1="440.30" y1="146.50" x2="440.30" y2="149.00" stroke="#505050" stroke-width="1"/>
<line x1="440.30" y1="149.50" x2="440.30" y2="152.00" stroke="#505050" stroke-width="1"/>
<text x="440.3" y="304.2" text-anchor="middle" font-size="12" >5</text>
<line x1="249.90" y1="146.40" x2="252.40" y2="146.40" stroke="#505050" stroke-width="1"/>
<line x1="438.00" y1="146.40" x2="440.50" y2="146.40" stroke="#505050" stroke-width="1"/>
<text x="247.8" y="150.5" text-anchor="end" font-size="12" >0.0</text>
<line x1="251.10" y1="132.40" x2="252.40" y2="132.40" stroke="#505050" stroke-width="1"/>
<line x1="439.20" y1="132.40" x2="440.50" y2="132.40" stroke="#505050" stroke-width="1"/>
<line x1="249.90" y1="118.40" x2="252.40" y2="118.40" stroke="#505050" stroke-width="1"/>
<line x1="438.00" y1="118.40" x2="440.50" y2="118.40" stroke="#505050" stroke-width="1"/>
<text x="247.8" y="122.5" text-anchor="end" font-size="12" >0.5</text>
<line x1="251.10" y1="104.40" x2="252.40" y2="104.40" stroke="#505050" stroke-width="1"/>
<line x1="439.20" y1="104.40" x2="440.50" y2="104.40" stroke="#505050" stroke-width="1"/>
<line x1="249.90" y1="90.40" x2="252.40" y2="90.40" stroke="#505050" stroke-width="1"/>
<line x1="438.00" y1="90.40" x2="440.50" y2="90.40" stroke="#505050" stroke-width="1"/>
<text x="247.8" y="94.5" text-anchor="end" font-size="12" >1.0</text>
<line x1="251.10" y1="76.40" x2="252.40" y2="76.40" stroke="#505050" stroke-width="1"/>
<line x1="439.20" y1="76.40" x2="440.50" y2="76.40" stroke="#505050" stroke-width="1"/>
<line x1="249.90" y1="62.40" x2="252.40" y2="62.40" stroke="#505050" stroke-width="1"/>
<line x1="438.00" y1="62.40" x2="440.50" y2="62.40" stroke="#505050" stroke-width="1"/>
<text x="247.8" y="66.5" text-anchor="end" font-size="12" >1.5</text>
<line x1="251.10" y1="48.40" x2="252.40" y2="48.40" stroke="#505050" stroke-width="1"/>
<line x1="439.20" y1="48.40" x2="440.50" y2="48.40" stroke="#505050" stroke-width="1"/>
<line x1="249.90" y1="34.40" x2="252.40" y2="34.40" stroke="#505050" stroke-width="1"/>
<line x1="438.00" y1="34.40" x2="440.50" y2="34.40" stroke="#505050" stroke-width="1"/>
<text x="247.8" y="38.5" text-anchor="end" font-size="12" >2.0</text>
<line x1="251.10" y1="20.40" x2="252.40" y2="20.40" stroke="#505050" stroke-width="1"/>
<line x1="439.20" y1="20.40" x2="440.50" y2="20.40" stroke="#505050" stroke-width="1"/>
<line x1="249.90" y1="6.40" x2="252.40" y2="6.40" stroke="#505050" stroke-width="1"/>
<line x1="438.00" y1="6.40" x2="440.50" y2="6.40" stroke="#505050" stroke-width="1"/>
<text x="247.8" y="10.5" text-anchor="end" font-size="12" >2.5</text>
<line x1="249.90" y1="149.20" x2="252.40" y2="149.20" stroke="#505050" stroke-width="1"/>
<line x1="438.00" y1="149.20" x2="440.50" y2="149.20" stroke="#505050" stroke-width="1"/>
<text x="247.8" y="153.3" text-anchor="end" font-size="12" >0.0</text>
<line x1="251.10" y1="163.10" x2="252.40" y2="163.10" stroke="#505050" stroke-width="1"/>
<line x1="439.20" y1="163.10" x2="440.50" y2="163.10" stroke="#505050" stroke-width="1"/>
<line x1="249.90" y1="177.00" x2="252.40" y2="177.00" stroke="#505050" stroke-width="1"/>
<line x1="438.00" y1="177.00" x2="440.50" y2="177.00" stroke="#505050" stroke-width="1"/>
<text x="247.8" y="181.1" text-anchor="end" font-size="12" >0.5</text>
<line x1="251.10" y1="190.90" x2="252.40" y2="190.90" stroke="#505050" stroke-width="1"/>
<line x1="439.20" y1="190.90" x2="440.50" y2="190.90" stroke="#505050" stroke-width="1"/>
<line x1="249.90" y1="204.80" x2="252.40" y2="204.80" stroke="#505050" stroke-width="1"/>
<line x1="438.00" y1="204.80" x2="440.50" y2="204.80" stroke="#505050" stroke-width="1"/>
<text x="247.8" y="208.9" text-anchor="end" font-size="12" >1.0</text>
<line x1="251.10" y1="218.70" x2="252.40" y2="218.70" stroke="#505050" stroke-width="1"/>
<line x1="439.20" y1="218.70" x2="440.50" y2="218.70" stroke="#505050" stroke-width="1"/>
<line x1="249.90" y1="232.60" x2="252.40" y2="232.60" stroke="#505050" stroke-width="1"/>
<line x1="438.00" y1="232.60" x2="440.50" y2="232.60" stroke="#505050" stroke-width="1"/>
<text x="247.8" y="236.7" text-anchor="end" font-size="12" >1.5</text>
<line x1="251.10" y1="246.50" x2="252.40" y2="246.50" stroke="#505050" stroke-width="1"/>
<line x1="439.20" y1="246.50" x2="440.50" y2="246.50" stroke="#505050" stroke-width="1"/>
<line x1="249.90" y1="260.40" x2="252.40" y2="260.40" stroke="#505050" stroke-width="1"/>
<line x1="438.00" y1="260.40" x2="440.50" y2="260.40" stroke="#505050" stroke-width="1"/>
<text x="247.8" y="264.5" text-anchor="end" font-size="12" >2.0</text>
<line x1="251.10" y1="274.30" x2="252.40" y2="274.30" stroke="#505050" stroke-width="1"/>
<line x1="439.20" y1="274.30" x2="440.50" y2="274.30" stroke="#505050" stroke-width="1"/>
<line x1="249.90" y1="288.20" x2="252.40" y2="288.20" stroke="#505050" stroke-width="1"/>
<line x1="438.00" y1="288.20" x2="440.50" y2="288.20" stroke="#505050" stroke-width="1"/>
<text x="247.8" y="292.3" text-anchor="end" font-size="12" >2.5</text>
<text x="346.4" y="317.2" text-anchor="middle" font-size="12" >Energy [eV]</text>
<line x1="600.60" y1="67.00" x2="600.60" y2="289.30" stroke="#777" stroke-width="1"/>
<line x1="473.00" y1="145.50" x2="481.00" y2="145.50" stroke="#3040c0" stroke-width="1"/>
<line x1="473.00" y1="150.50" x2="481.00" y2="150.50" stroke="#3040c0" stroke-width="1"/>
<line x1="488.00" y1="145.50" x2="575.00" y2="145.50" stroke="#3040c0" stroke-width="1"/>
<line x1="488.00" y1="150.50" x2="575.00" y2="150.50" stroke="#3040c0" stroke-width="1"/>
<line x1="583.00" y1="145.50" x2="615.00" y2="145.50" stroke="#3040c0" stroke-width="1"/>
<line x1="583.00" y1="150.50" x2="615.00" y2="150.50" stroke="#3040c0" stroke-width="1"/>
<line x1="628.00" y1="145.50" x2="657.10" y2="145.50" stroke="#3040c0" stroke-width="1"/>
<line x1="628.00" y1="150.50" x2="657.10" y2="150.50" stroke="#3040c0" stroke-width="1"/>
<rect x="469.6" y="6.4" width="187.5" height="140.1" fill="none" stroke="#505050" stroke-width="1"/>
<rect x="469.6" y="149.5" width="187.5" height="139.8" fill="none" stroke="#505050" stroke-width="1"/>
<line x1="470.42" y1="289.30" x2="470.42" y2="290.60" stroke="#505050" stroke-width="1"/>
<line x1="470.42" y1="6.40" x2="470.42" y2="7.70" stroke="#505050" stroke-width="1"/>
<line x1="470.42" y1="146.50" x2="470.42" y2="147.80" stroke="#505050" stroke-width="1"/>
<line x1="470.42" y1="149.50" x2="470.42" y2="150.80" stroke="#505050" stroke-width="1"/>
<line x1="476.08" y1="289.30" x2="476.08" y2="291.80" stroke="#505050" stroke-width="1"/>
<line x1="476.08" y1="6.40" x2="476.08" y2="8.90" stroke="#505050" stroke-width="1"/>
<line x1="476.08" y1="146.50" x2="476.08" y2="149.00" stroke="#505050" stroke-width="1"/>
<line x1="476.08" y1="149.50" x2="476.08" y2="152.00" stroke="#505050" stroke-width="1"/>
<text x="476.1" y="304.2" text-anchor="middle" font-size="12" >-11</text>
<line x1="481.74" y1="289.30" x2="481.74" y2="290.60" stroke="#505050" stroke-width="1"/>
<line x1="481.74" y1="6.40" x2="481.74" y2="7.70" stroke="#505050" stroke-width="1"/>
<line x1="481.74" y1="146.50" x2="481.74" y2="147.80" stroke="#505050" stroke-width="1"/>
<line x1="481.74" y1="149.50" x2="481.74" y2="150.80" stroke="#505050" stroke-width="1"/>
<line x1="487.40" y1="289.30" x2="487.40" y2="291.80" stroke="#505050" stroke-width="1"/>
<line x1="487.40" y1="6.40" x2="487.40" y2="8.90" stroke="#505050" stroke-width="1"/>
<line x1="487.40" y1="146.50" x2="487.40" y2="149.00" stroke="#505050" stroke-width="1"/>
<line x1="487.40" y1="149.50" x2="487.40" y2="152.00" stroke="#505050" stroke-width="1"/>
<text x="487.4" y="304.2" text-anchor="middle" font-size="12" >-10</text>
<line x1="493.06" y1="289.30" x2="493.06" y2="290.60" stroke="#505050" stroke-width="1"/>
<line x1="493.06" y1="6.40" x2="493.06" y2="7.70" stroke="#505050" stroke-width="1"/>
<line x1="493.06" y1="146.50" x2="493.06" y2="147.80" stroke="#505050" stroke-width="1"/>
<line x1="493.06" y1="149.50" x2="493.06" y2="150.80" stroke="#505050" stroke-width="1"/>
<line x1="498.72" y1="289.30" x2="498.72" y2="291.80" stroke="#505050" stroke-width="1"/>
<line x1="498.72" y1="6.40" x2="498.72" y2="8.90" stroke="#505050" stroke-width="1"/>
<line x1="498.72" y1="146.50" x2="498.72" y2="149.00" stroke="#505050" stroke-width="1"/>
<line x1="498.72" y1="149.50" x2="498.72" y2="152.00" stroke="#505050" stroke-width="1"/>
<text x="498.7" y="304.2" text-anchor="middle" font-size="12" >-9</text>
<line x1="504.38" y1="289.30" x2="504.38" y2="290.60" stroke="#505050" stroke-width="1"/>
<line x1="504.38" y1="6.40" x2="504.38" y2="7.70" stroke="#505050" stroke-width="1"/>
<line x1="504.38" y1="146.50" x2="504.38" y2="147.80" stroke="#505050" stroke-width="1"/>
<line x1="504.38" y1="149.50" x2="504.38" y2="150.80" stroke="#505050" stroke-width="1"/>
<line x1="510.04" y1="289.30" x2="510.04" y2="291.80" stroke="#505050" stroke-width="1"/>
<line x1="510.04" y1="6.40" x2="510.04" y2="8.90" stroke="#505050" stroke-width="1"/>
<line x1="510.04" y1="146.50" x2="510.04" y2="149.00" stroke="#505050" stroke-width="1"/>
<line x1="510.04" y1="149.50" x2="510.04" y2="152.00" stroke="#505050" stroke-width="1"/>
<text x="510.0" y="304.2" text-anchor="middle" font-size="12" >-8</text>
<line x1="515.70" y1="289.30" x2="515.70" y2="290.60" stroke="#505050" stroke-width="1"/>
<line x1="515.70" y1="6.40" x2="515.70" y2="7.70" stroke="#505050" stroke-width="1"/>
<line x1="515.70" y1="146.50" x2="515.70" y2="147.80" stroke="#505050" stroke-width="1"/>
<line x1="515.70" y1="149.50" x2="515.70" y2="150.80" stroke="#505050" stroke-width="1"/>
<line x1="521.36" y1="289.30" x2="521.36" y2="291.80" stroke="#505050" stroke-width="1"/>
<line x1="521.36" y1="6.40" x2="521.36" y2="8.90" stroke="#505050" stroke-width="1"/>
<line x1="521.36" y1="146.50" x2="521.36" y2="149.00" stroke="#505050" stroke-width="1"/>
<line x1="521.36" y1="149.50" x2="521.36" y2="152.00" stroke="#505050" stroke-width="1"/>
<text x="521.4" y="304.2" text-anchor="middle" font-size="12" >-7</text>
<line x1="527.02" y1="289.30" x2="527.02" y2="290.60" stroke="#505050" stroke-width="1"/>
<line x1="527.02" y1="6.40" x2="527.02" y2="7.70" stroke="#505050" stroke-width="1"/>
<line x1="527.02" y1="146.50" x2="527.02" y2="147.80" stroke="#505050" stroke-width="1"/>
<line x1="527.02" y1="149.50" x2="527.02" y2="150.80" stroke="#505050" stroke-width="1"/>
<line x1="532.68" y1="289.30" x2="532.68" y2="291.80" stroke="#505050" stroke-width="1"/>
<line x1="532.68" y1="6.40" x2="532.68" y2="8.90" stroke="#505050" stroke-width="1"/>
<line x1="532.68" y1="146.50" x2="532.68" y2="149.00" stroke="#505050" stroke-width="1"/>
<line x1="532.68" y1="149.50" x2="532.68" y2="152.00" stroke="#505050" stroke-width="1"/>
<text x="532.7" y="304.2" text-anchor="middle" font-size="12" >-6</text>
<line x1="538.34" y1="289.30" x2="538.34" y2="290.60" stroke="#505050" stroke-width="1"/>
<line x1="538.34" y1="6.40" x2="538.34" y2="7.70" stroke="#505050" stroke-width="1"/>
<line x1="538.34" y1="146.50" x2="538.34" y2="147.80" stroke="#505050" stroke-width="1"/>
<line x1="538.34" y1="149.50" x2="538.34" y2="150.80" stroke="#505050" stroke-width="1"/>
<line x1="544.00" y1="289.30" x2="544.00" y2="291.80" stroke="#505050" stroke-width="1"/>
<line x1="544.00" y1="6.40" x2="544.00" y2="8.90" stroke="#505050" stroke-width="1"/>
<line x1="544.00" y1="146.50" x2="544.00" y2="149.00" stroke="#505050" stroke-width="1"/>
<line x1="544.00" y1="149.50" x2="544.00" y2="152.00" stroke="#505050" stroke-width="1"/>
<text x="544.0" y="304.2" text-anchor="middle" font-size="12" >-5</text>
<line x1="549.66" y1="289.30" x2="549.66" y2="290.60" stroke="#505050" stroke-width="1"/>
<line x1="549.66" y1="6.40" x2="549.66" y2="7.70" stroke="#505050" stroke-width="1"/>
<line x1="549.66" y1="146.50" x2="549.66" y2="147.80" stroke="#505050" stroke-width="1"/>
<line x1="549.66" y1="149.50" x2="549.66" y2="150.80" stroke="#505050" stroke-width="1"/>
<line x1="555.32" y1="289.30" x2="555.32" y2="291.80" stroke="#505050" stroke-width="1"/>
<line x1="555.32" y1="6.40" x2="555.32" y2="8.90" stroke="#505050" stroke-width="1"/>
<line x1="555.32" y1="146.50" x2="555.32" y2="149.00" stroke="#505050" stroke-width="1"/>
<line x1="555.32" y1="149.50" x2="555.32" y2="152.00" stroke="#505050" stroke-width="1"/>
<text x="555.3" y="304.2" text-anchor="middle" font-size="12" >-4</text>
<line x1="560.98" y1="289.30" x2="560.98" y2="290.60" stroke="#505050" stroke-width="1"/>
<line x1="560.98" y1="6.40" x2="560.98" y2="7.70" stroke="#505050" stroke-width="1"/>
<line x1="560.98" y1="146.50" x2="560.98" y2="147.80" stroke="#505050" stroke-width="1"/>
<line x1="560.98" y1="149.50" x2="560.98" y2="150.80" stroke="#505050" stroke-width="1"/>
<line x1="566.64" y1="289.30" x2="566.64" y2="291.80" stroke="#505050" stroke-width="1"/>
<line x1="566.64" y1="6.40" x2="566.64" y2="8.90" stroke="#505050" stroke-width="1"/>
<line x1="566.64" y1="146.50" x2="566.64" y2="149.00" stroke="#505050" stroke-width="1"/>
<line x1="566.64" y1="149.50" x2="566.64" y2="152.00" stroke="#505050" stroke-width="1"/>
<text x="566.6" y="304.2" text-anchor="middle" font-size="12" >-3</text>
<line x1="572.30" y1="289.30" x2="572.30" y2="290.60" stroke="#505050" stroke-width="1"/>
<line x1="572.30" y1="6.40" x2="572.30" y2="7.70" stroke="#505050" stroke-width="1"/>
<line x1="572.30" y1="146.50" x2="572.30" y2="147.80" stroke="#505050" stroke-width="1"/>
<line x1="572.30" y1="149.50" x2="572.30" y2="150.80" stroke="#505050" stroke-width="1"/>
<line x1="577.96" y1="289.30" x2="577.96" y2="291.80" stroke="#505050" stroke-width="1"/>
<line x1="577.96" y1="6.40" x2="577.96" y2="8.90" stroke="#505050" stroke-width="1"/>
<line x1="577.96" y1="146.50" x2="577.96" y2="149.00" stroke="#505050" stroke-width="1"/>
<line x1="577.96" y1="149.50" x2="577.96" y2="152.00" stroke="#505050" stroke-width="1"/>
<text x="578.0" y="304.2" text-anchor="middle" font-size="12" >-2</text>
<line x1="583.62" y1="289.30" x2="583.62" y2="290.60" stroke="#505050" stroke-width="1"/>
<line x1="583.62" y1="6.40" x2="583.62" y2="7.70" stroke="#505050" stroke-width="1"/>
<line x1="583.62" y1="146.50" x2="583.62" y2="147.80" stroke="#505050" stroke-width="1"/>
<line x1="583.62" y1="149.50" x2="583.62" y2="150.80" stroke="#505050" stroke-width="1"/>
<line x1="589.28" y1="289.30" x2="589.28" y2="291.80" stroke="#505050" stroke-width="1"/>
<line x1="589.28" y1="6.40" x2="589.28" y2="8.90" stroke="#505050" stroke-width="1"/>
<line x1="589.28" y1="146.50" x2="589.28" y2="149.00" stroke="#505050" stroke-width="1"/>
<line x1="589.28" y1="149.50" x2="589.28" y2="152.00" stroke="#505050" stroke-width="1"/>
<text x="589.3" y="304.2" text-anchor="middle" font-size="12" >-1</text>
<line x1="594.94" y1="289.30" x2="594.94" y2="290.60" stroke="#505050" stroke-width="1"/>
<line x1="594.94" y1="6.40" x2="594.94" y2="7.70" stroke="#505050" stroke-width="1"/>
<line x1="594.94" y1="146.50" x2="594.94" y2="147.80" stroke="#505050" stroke-width="1"/>
<line x1="594.94" y1="149.50" x2="594.94" y2="150.80" stroke="#505050" stroke-width="1"/>
<line x1="600.60" y1="289.30" x2="600.60" y2="291.80" stroke="#505050" stroke-width="1"/>
<line x1="600.60" y1="6.40" x2="600.60" y2="8.90" stroke="#505050" stroke-width="1"/>
<line x1="600.60" y1="146.50" x2="600.60" y2="149.00" stroke="#505050" stroke-width="1"/>
<line x1="600.60" y1="149.50" x2="600.60" y2="152.00" stroke="#505050" stroke-width="1"/>
<text x="600.6" y="304.2" text-anchor="middle" font-size="12" >0</text>
<line x1="606.26" y1="289.30" x2="606.26" y2="290.60" stroke="#505050" stroke-width="1"/>
<line x1="606.26" y1="6.40" x2="606.26" y2="7.70" stroke="#505050" stroke-width="1"/>
<line x1="606.26" y1="146.50" x2="606.26" y2="147.80" stroke="#505050" stroke-width="1"/>
<line x1="606.26" y1="149.50" x2="606.26" y2="150.80" stroke="#505050" stroke-width="1"/>
<line x1="611.92" y1="289.30" x2="611.92" y2="291.80" stroke="#505050" stroke-width="1"/>
<line x1="611.92" y1="6.40" x2="611.92" y2="8.90" stroke="#505050" stroke-width="1"/>
<line x1="611.92" y1="146.50" x2="611.92" y2="149.00" stroke="#505050" stroke-width="1"/>
<line x1="611.92" y1="149.50" x2="611.92" y2="152.00" stroke="#505050" stroke-width="1"/>
<text x="611.9" y="304.2" text-anchor="middle" font-size="12" >1</text>
<line x1="617.58" y1="289.30" x2="617.58" y2="290.60" stroke="#505050" stroke-width="1"/>
<line x1="617.58" y1="6.40" x2="617.58" y2="7.70" stroke="#505050" stroke-width="1"/>
<line x1="617.58" y1="146.50" x2="617.58" y2="147.80" stroke="#505050" stroke-width="1"/>
<line x1="617.58" y1="149.50" x2="617.58" y2="150.80" stroke="#505050" stroke-width="1"/>
<line x1="623.24" y1="289.30" x2="623.24" y2="291.80" stroke="#505050" stroke-width="1"/>
<line x1="623.24" y1="6.40" x2="623.24" y2="8.90" stroke="#505050" stroke-width="1"/>
<line x1="623.24" y1="146.50" x2="623.24" y2="149.00" stroke="#505050" stroke-width="1"/>
<line x1="623.24" y1="149.50" x2="623.24" y2="152.00" stroke="#505050" stroke-width="1"/>
<text x="623.2" y="304.2" text-anchor="middle" font-size="12" >2</text>
<line x1="628.90" y1="289.30" x2="628.90" y2="290.60" stroke="#505050" stroke-width="1"/>
<line x1="628.90" y1="6.40" x2="628.90" y2="7.70" stroke="#505050" stroke-width="1"/>
<line x1="628.90" y1="146.50" x2="628.90" y2="147.80" stroke="#505050" stroke-width="1"/>
<line x1="628.90" y1="149.50" x2="628.90" y2="150.80" stroke="#505050" stroke-width="1"/>
<line x1="634.56" y1="289.30" x2="634.56" y2="291.80" stroke="#505050" stroke-width="1"/>
<line x1="634.56" y1="6.40" x2="634.56" y2="8.90" stroke="#505050" stroke-width="1"/>
<line x1="634.56" y1="146.50" x2="634.56" y2="149.00" stroke="#505050" stroke-width="1"/>
<line x1="634.56" y1="149.50" x2="634.56" y2="152.00" stroke="#505050" stroke-width="1"/>
<text x="634.6" y="304.2" text-anchor="middle" font-size="12" >3</text>
<line x1="640.22" y1="289.30" x2="640.22" y2="290.60" stroke="#505050" stroke-width="1"/>
<line x1="640.22" y1="6.40" x2="640.22" y2="7.70" stroke="#505050" stroke-width="1"/>
<line x1="640.22" y1="146.50" x2="640.22" y2="147.80" stroke="#505050" stroke-width="1"/>
<line x1="640.22" y1="149.50" x2="640.22" y2="150.80" stroke="#505050" stroke-width="1"/>
<line x1="645.88" y1="289.30" x2="645.88" y2="291.80" stroke="#505050" stroke-width="1"/>
<line x1="645.88" y1="6.40" x2="645.88" y2="8.90" stroke="#505050" stroke-width="1"/>
<line x1="645.88" y1="146.50" x2="645.88" y2="149.00" stroke="#505050" stroke-width="1"/>
<line x1="645.88" y1="149.50" x2="645.88" y2="152.00" stroke="#505050" stroke-width="1"/>
<text x="645.9" y="304.2" text-anchor="middle" font-size="12" >4</text>
<line x1="651.54" y1="289.30" x2="651.54" y2="290.60" stroke="#505050" stroke-width="1"/>
<line x1="651.54" y1="6.40" x2="651.54" y2="7.70" stroke="#505050" stroke-width="1"/>
<line x1="651.54" y1="146.50" x2="651.54" y2="147.80" stroke="#505050" stroke-width="1"/>
<line x1="651.54" y1="149.50" x2="651.54" y2="150.80" stroke="#505050" stroke-width="1"/>
<line x1="657.20" y1="289.30" x2="657.20" y2="291.80" stroke="#505050" stroke-width="1"/>
<line x1="657.20" y1="6.40" x2="657.20" y2="8.90" stroke="#505050" stroke-width="1"/>
<line x1="657.20" y1="146.50" x2="657.20" y2="149.00" stroke="#505050" stroke-width="1"/>
<line x1="657.20" y1="149.50" x2="657.20" y2="152.00" stroke="#505050" stroke-width="1"/>
<text x="657.2" y="304.2" text-anchor="middle" font-size="12" >5</text>
<line x1="467.10" y1="146.80" x2="469.60" y2="146.80" stroke="#505050" stroke-width="1"/>
<line x1="654.60" y1="146.80" x2="657.10" y2="146.80" stroke="#505050" stroke-width="1"/>
<text x="465.2" y="150.9" text-anchor="end" font-size="12" >0.0</text>
<line x1="468.30" y1="126.10" x2="469.60" y2="126.10" stroke="#505050" stroke-width="1"/>
<line x1="655.80" y1="126.10" x2="657.10" y2="126.10" stroke="#505050" stroke-width="1"/>
<line x1="467.10" y1="105.40" x2="469.60" y2="105.40" stroke="#505050" stroke-width="1"/>
<line x1="654.60" y1="105.40" x2="657.10" y2="105.40" stroke="#505050" stroke-width="1"/>
<text x="465.2" y="109.5" text-anchor="end" font-size="12" >0.5</text>
<line x1="468.30" y1="84.70" x2="469.60" y2="84.70" stroke="#505050" stroke-width="1"/>
<line x1="655.80" y1="84.70" x2="657.10" y2="84.70" stroke="#505050" stroke-width="1"/>
<line x1="467.10" y1="64.00" x2="469.60" y2="64.00" stroke="#505050" stroke-width="1"/>
<line x1="654.60" y1="64.00" x2="657.10" y2="64.00" stroke="#505050" stroke-width="1"/>
<text x="465.2" y="68.1" text-anchor="end" font-size="12" >1.0</text>
<line x1="468.30" y1="43.30" x2="469.60" y2="43.30" stroke="#505050" stroke-width="1"/>
<line x1="655.80" y1="43.30" x2="657.10" y2="43.30" stroke="#505050" stroke-width="1"/>
<line x1="467.10" y1="22.60" x2="469.60" y2="22.60" stroke="#505050" stroke-width="1"/>
<line x1="654.60" y1="22.60" x2="657.10" y2="22.60" stroke="#505050" stroke-width="1"/>
<text x="465.2" y="26.7" text-anchor="end" font-size="12" >1.5</text>
<line x1="467.10" y1="149.00" x2="469.60" y2="149.00" stroke="#505050" stroke-width="1"/>
<line x1="654.60" y1="149.00" x2="657.10" y2="149.00" stroke="#505050" stroke-width="1"/>
<text x="465.2" y="153.1" text-anchor="end" font-size="12" >0.0</text>
<line x1="468.30" y1="169.70" x2="469.60" y2="169.70" stroke="#505050" stroke-width="1"/>
<line x1="655.80" y1="169.70" x2="657.10" y2="169.70" stroke="#505050" stroke-width="1"/>
<line x1="467.10" y1="190.40" x2="469.60" y2="190.40" stroke="#505050" stroke-width="1"/>
<line x1="654.60" y1="190.40" x2="657.10" y2="190.40" stroke="#505050" stroke-width="1"/>
<text x="465.2" y="194.5" text-anchor="end" font-size="12" >0.5</text>
<line x1="468.30" y1="211.10" x2="469.60" y2="211.10" stroke="#505050" stroke-width="1"/>
<line x1="655.80" y1="211.10" x2="657.10" y2="211.10" stroke="#505050" stroke-width="1"/>
<line x1="467.10" y1="231.80" x2="469.60" y2="231.80" stroke="#505050" stroke-width="1"/>
<line x1="654.60" y1="231.80" x2="657.10" y2="231.80" stroke="#505050" stroke-width="1"/>
<text x="465.2" y="235.9" text-anchor="end" font-size="12" >1.0</text>
<line x1="468.30" y1="252.50" x2="469.60" y2="252.50" stroke="#505050" stroke-width="1"/>
<line x1="655.80" y1="252.50" x2="657.10" y2="252.50" stroke="#505050" stroke-width="1"/>
<line x1="467.10" y1="273.20" x2="469.60" y2="273.20" stroke="#505050" stroke-width="1"/>
<line x1="654.60" y1="273.20" x2="657.10" y2="273.20" stroke="#505050" stroke-width="1"/>
<text x="465.2" y="277.3" text-anchor="end" font-size="12" >1.5</text>
<text x="563.4" y="317.2" text-anchor="middle" font-size="12" >Energy [eV]</text>
<text transform="translate(11.2,155.5) rotate(-90)" text-anchor="middle" font-size="12">DOS [states/eV fu]</text>
<text x="52.6" y="38.4" text-anchor="start" font-size="12" >a)</text>
<text x="268.6" y="38.4" text-anchor="start" font-size="12" >b)</text>
<text x="483.7" y="38.4" text-anchor="start" font-size="12" >c)</text>
<rect x="128" y="6.9" width="95" height="60" fill="#fff"/>
<rect x="130.4" y="23.2" width="27.19999999999999" height="12.8" fill="#7a7a7a"/>
<rect x="130.4" y="37.7" width="27.19999999999999" height="13.099999999999994" fill="#ff8080"/>
<rect x="130.4" y="52.2" width="27.19999999999999" height="13.399999999999991" fill="#8080ff"/>
<text x="160.7" y="33.6" text-anchor="start" font-size="12" >total DOS</text>
<text x="160.7" y="48.4" text-anchor="start" font-size="12" >Cu d</text>
<text x="160.7" y="62.9" text-anchor="start" font-size="12" >O p</text>
<text x="130.4" y="18.5" font-size="12">CuO</text>
<rect x="344.6" y="5.5" width="85.69999999999999" height="63.7" fill="#fff"/>
<line x1="344.60" y1="6.00" x2="344.60" y2="69.20" stroke="#555" stroke-width="1"/>
<line x1="430.30" y1="6.00" x2="430.30" y2="69.20" stroke="#555" stroke-width="1"/>
<line x1="344.60" y1="69.20" x2="430.30" y2="69.20" stroke="#555" stroke-width="1"/>
<rect x="346.2" y="25" width="27.0" height="12.899999999999999" fill="#7a7a7a"/>
<rect x="346.2" y="39.5" width="27.0" height="13.200000000000003" fill="#ff8080"/>
<rect x="346.2" y="54.7" width="27.0" height="12.799999999999997" fill="#8080ff"/>
<text x="376.5" y="35.4" text-anchor="start" font-size="12" >total DOS</text>
<text x="376.5" y="49.7" text-anchor="start" font-size="12" >Cu d</text>
<text x="376.5" y="64.2" text-anchor="start" font-size="12" >O p</text>
<text x="346.2" y="17.8" font-size="12">Cu<tspan font-size="8.2" dy="3.3">15/16</tspan><tspan dy="-3.3">Cr</tspan><tspan font-size="8.2" dy="3.3">1/16</tspan><tspan dy="-3.3">O</tspan></text>
<rect x="576.4" y="5.5" width="85.39999999999998" height="63.900000000000006" fill="#fff"/>
<line x1="576.40" y1="6.00" x2="576.40" y2="69.40" stroke="#555" stroke-width="1"/>
<line x1="661.80" y1="6.00" x2="661.80" y2="69.40" stroke="#555" stroke-width="1"/>
<line x1="576.40" y1="69.40" x2="661.80" y2="69.40" stroke="#555" stroke-width="1"/>
<rect x="577" y="25.4" width="28" height="12.600000000000001" fill="#7a7a7a"/>
<rect x="577" y="39.8" width="28" height="12.5" fill="#ff8080"/>
<rect x="577" y="54.5" width="28" height="13.200000000000003" fill="#8080ff"/>
<text x="608.3" y="35.6" text-anchor="start" font-size="12" >total DOS</text>
<text x="608.3" y="50.0" text-anchor="start" font-size="12" >Cu d</text>
<text x="608.3" y="64.4" text-anchor="start" font-size="12" >O p</text>
<text x="577.7" y="18" font-size="12">Cu<tspan font-size="8.2" dy="3.3">7/8</tspan><tspan dy="-3.3">Cr</tspan><tspan font-size="8.2" dy="3.3">1/8</tspan><tspan dy="-3.3">O</tspan></text>
<clipPath id="c35"><rect x="35.8" y="348.1" width="194.60000000000002" height="140.2"/></clipPath>
<clipPath id="c252"><rect x="252.5" y="348.1" width="194.5" height="140.2"/></clipPath>
<clipPath id="c469"><rect x="469.4" y="348.0" width="194.80000000000007" height="140.2"/></clipPath>
<g clip-path="url(#c35)">
<path d="M44.55,488.30 L47.56,488.30 L51.50,488.30 L56.19,488.31 L61.44,488.31 L67.06,488.30 L72.89,488.28 L78.73,488.23 L84.40,488.16 L90.27,488.06 L96.68,487.93 L103.37,487.79 L110.13,487.63 L116.70,487.45 L122.87,487.27 L128.38,487.08 L133.00,486.90 L136.60,486.72 L139.36,486.53 L141.48,486.35 L143.18,486.15 L144.66,485.95 L146.16,485.72 L147.87,485.48 L150.01,485.22 L152.60,484.92 L155.44,484.61 L158.43,484.28 L161.46,483.94 L164.43,483.57 L167.22,483.20 L169.74,482.81 L171.88,482.41 L173.61,482.03 L175.02,481.66 L176.19,481.30 L177.17,480.92 L178.03,480.50 L178.85,480.01 L179.69,479.44 L180.63,478.77 L181.62,477.98 L182.58,477.09 L183.51,476.13 L184.42,475.10 L185.32,474.03 L186.20,472.91 L187.06,471.78 L187.92,470.63 L188.76,469.45 L189.59,468.18 L190.40,466.87 L191.20,465.54 L191.98,464.21 L192.75,462.91 L193.50,461.68 L194.24,460.54 L194.96,459.47 L195.66,458.42 L196.35,457.42 L197.03,456.46 L197.69,455.55 L198.34,454.71 L198.97,453.94 L199.58,453.25 L200.16,452.66 L200.70,452.18 L201.21,451.79 L201.71,451.44 L202.22,451.14 L202.75,450.84 L203.32,450.52 L203.96,450.17 L204.65,449.83 L205.38,449.56 L206.14,449.32 L206.93,449.06 L207.75,448.75 L208.58,448.35 L209.42,447.80 L210.27,447.08 L211.14,446.21 L212.03,445.23 L212.94,444.14 L213.86,442.95 L214.79,441.63 L215.72,440.21 L216.65,438.66 L217.56,436.99 L218.49,435.16 L219.42,433.18 L220.36,431.06 L221.30,428.84 L222.23,426.53 L223.13,424.15 L224.01,421.74 L224.85,419.32 L225.69,416.71 L226.55,413.81 L227.40,410.76 L228.23,407.70 L228.99,404.79 L229.67,402.15 L230.25,399.94 L230.69,398.29" fill="none" stroke="#111" stroke-width="1.4" stroke-linejoin="round"/>
<path d="M44.55,488.30 L47.70,488.29 L51.96,488.29 L57.04,488.29 L62.65,488.29 L68.49,488.28 L74.25,488.26 L79.66,488.22 L84.40,488.16 L88.62,488.08 L92.67,487.98 L96.55,487.87 L100.26,487.75 L103.81,487.61 L107.20,487.47 L110.45,487.33 L113.56,487.18 L116.47,487.04 L119.16,486.92 L121.67,486.81 L124.04,486.68 L126.32,486.53 L128.54,486.33 L130.75,486.09 L133.00,485.78 L135.26,485.39 L137.48,484.95 L139.66,484.47 L141.81,483.94 L143.92,483.37 L145.99,482.79 L148.02,482.18 L150.01,481.57 L151.97,480.95 L153.89,480.33 L155.78,479.68 L157.63,479.01 L159.44,478.31 L161.21,477.57 L162.92,476.79 L164.59,475.96 L166.19,475.16 L167.71,474.42 L169.18,473.68 L170.60,472.88 L172.01,471.96 L173.41,470.85 L174.82,469.50 L176.25,467.83 L177.75,465.81 L179.30,463.46 L180.86,460.87 L182.42,458.09 L183.94,455.19 L185.38,452.26 L186.72,449.34 L187.92,446.52 L188.98,443.72 L189.93,440.83 L190.79,437.90 L191.56,434.95 L192.28,432.04 L192.95,429.18 L193.60,426.43 L194.24,423.81 L194.83,421.26 L195.37,418.72 L195.85,416.24 L196.30,413.84 L196.74,411.56 L197.17,409.45 L197.63,407.54 L198.12,405.86 L198.65,404.42 L199.19,403.18 L199.75,402.12 L200.31,401.24 L200.87,400.51 L201.43,399.92 L201.97,399.47 L202.50,399.13 L202.99,398.95 L203.45,398.94 L203.88,399.08 L204.32,399.36 L204.77,399.75 L205.25,400.23 L205.79,400.78 L206.39,401.38 L207.06,402.10 L207.81,403.02 L208.60,404.06 L209.42,405.16 L210.26,406.26 L211.10,407.30 L211.92,408.22 L212.70,408.95 L213.45,409.53 L214.18,410.06 L214.91,410.51 L215.62,410.87 L216.33,411.14 L217.06,411.29 L217.79,411.31 L218.54,411.19 L219.31,410.96 L220.09,410.66 L220.89,410.25 L221.69,409.72 L222.50,409.03 L223.30,408.18 L224.08,407.13 L224.85,405.86 L225.65,404.19 L226.48,402.07 L227.33,399.66 L228.16,397.12 L228.95,394.62 L229.65,392.33 L230.24,390.41 L230.69,389.04" fill="none" stroke="#f01818" stroke-width="1.4" stroke-linejoin="round"/>
<path d="M44.55,488.30 L47.70,488.30 L51.96,488.30 L57.04,488.31 L62.65,488.31 L68.49,488.30 L74.25,488.28 L79.66,488.23 L84.40,488.16 L88.62,488.06 L92.67,487.93 L96.55,487.77 L100.26,487.61 L103.81,487.43 L107.20,487.25 L110.45,487.07 L113.56,486.90 L116.47,486.75 L119.16,486.63 L121.67,486.52 L124.04,486.40 L126.32,486.25 L128.54,486.07 L130.75,485.82 L133.00,485.50 L135.26,485.09 L137.48,484.62 L139.66,484.10 L141.81,483.53 L143.92,482.93 L145.99,482.30 L148.02,481.66 L150.01,481.01 L151.97,480.36 L153.89,479.70 L155.78,479.03 L157.63,478.33 L159.44,477.60 L161.21,476.82 L162.92,476.00 L164.59,475.12 L166.22,474.17 L167.81,473.15 L169.37,472.08 L170.88,470.97 L172.33,469.83 L173.71,468.69 L175.03,467.55 L176.25,466.43 L177.38,465.36 L178.42,464.34 L179.37,463.33 L180.26,462.31 L181.11,461.24 L181.93,460.10 L182.73,458.85 L183.54,457.46 L184.35,455.89 L185.13,454.17 L185.88,452.34 L186.61,450.43 L187.32,448.49 L188.02,446.55 L188.70,444.67 L189.38,442.88 L190.03,441.17 L190.65,439.51 L191.25,437.89 L191.84,436.29 L192.42,434.68 L193.01,433.06 L193.61,431.40 L194.24,429.70 L194.88,427.94 L195.55,426.15 L196.23,424.33 L196.91,422.49 L197.59,420.65 L198.27,418.79 L198.93,416.95 L199.58,415.12 L200.20,413.31 L200.79,411.54 L201.35,409.77 L201.92,408.00 L202.50,406.21 L203.10,404.38 L203.74,402.49 L204.44,400.53 L205.22,398.47 L206.06,396.30 L206.96,394.06 L207.87,391.79 L208.79,389.53 L209.67,387.31 L210.50,385.17 L211.25,383.15 L211.89,381.31 L212.45,379.64 L212.96,378.06 L213.43,376.53 L213.91,374.96 L214.41,373.29 L214.97,371.47 L215.62,369.41 L216.38,367.02 L217.24,364.31 L218.16,361.41 L219.11,358.42 L220.05,355.48 L220.94,352.70 L221.74,350.20 L222.42,348.10 L222.99,346.37 L223.49,344.89 L223.93,343.63 L224.31,342.56 L224.63,341.66 L224.91,340.90 L225.14,340.25 L225.34,339.69" fill="none" stroke="#1a1aff" stroke-width="1.4" stroke-linejoin="round"/>
</g>
<g clip-path="url(#c252)">
<path d="M263.68,488.30 L267.68,488.25 L273.25,488.19 L279.90,488.13 L287.16,488.05 L294.55,487.95 L301.60,487.85 L307.83,487.73 L312.76,487.60 L316.42,487.49 L319.25,487.41 L321.45,487.33 L323.21,487.24 L324.73,487.09 L326.20,486.87 L327.82,486.53 L329.77,486.06 L332.02,485.42 L334.36,484.64 L336.75,483.74 L339.13,482.77 L341.47,481.75 L343.72,480.72 L345.83,479.72 L347.76,478.77 L349.50,477.85 L351.09,476.92 L352.55,475.98 L353.92,475.05 L355.22,474.13 L356.47,473.22 L357.70,472.33 L358.93,471.48 L360.14,470.69 L361.28,469.99 L362.37,469.33 L363.43,468.67 L364.47,467.98 L365.52,467.22 L366.58,466.34 L367.68,465.31 L368.83,464.07 L370.01,462.65 L371.22,461.09 L372.42,459.47 L373.61,457.84 L374.77,456.27 L375.87,454.81 L376.92,453.53 L377.88,452.46 L378.78,451.55 L379.62,450.76 L380.44,450.03 L381.24,449.29 L382.04,448.50 L382.86,447.59 L383.72,446.52 L384.62,445.28 L385.57,443.92 L386.52,442.48 L387.49,440.96 L388.43,439.41 L389.35,437.84 L390.21,436.28 L391.01,434.74 L391.74,433.24 L392.41,431.72 L393.03,430.21 L393.62,428.68 L394.19,427.14 L394.75,425.58 L395.30,424.01 L395.87,422.41 L396.43,420.78 L396.96,419.13 L397.48,417.45 L398.00,415.76 L398.52,414.06 L399.06,412.36 L399.63,410.65 L400.24,408.95 L400.89,407.20 L401.55,405.39 L402.24,403.54 L402.95,401.71 L403.68,399.92 L404.45,398.21 L405.24,396.63 L406.08,395.21 L406.95,393.96 L407.85,392.85 L408.79,391.85 L409.75,390.95 L410.74,390.10 L411.76,389.29 L412.80,388.47 L413.85,387.64 L414.95,386.82 L416.09,386.06 L417.27,385.34 L418.47,384.64 L419.67,383.92 L420.85,383.17 L421.99,382.36 L423.09,381.47 L424.14,380.49 L425.18,379.46 L426.19,378.38 L427.19,377.26 L428.15,376.11 L429.09,374.92 L429.99,373.72 L430.86,372.49 L431.69,371.26 L432.47,370.02 L433.21,368.76 L433.93,367.47 L434.63,366.14 L435.32,364.76 L436.00,363.33 L436.69,361.84 L437.41,360.23 L438.13,358.50 L438.86,356.68 L439.58,354.83 L440.27,353.00 L440.92,351.23 L441.51,349.58 L442.04,348.10 L442.50,346.74 L442.91,345.43 L443.27,344.19 L443.59,343.04 L443.86,341.99 L444.10,341.07 L444.30,340.30 L444.47,339.69" fill="none" stroke="#111" stroke-width="1.4" stroke-linejoin="round"/>
<path d="M263.68,488.30 L267.68,488.25 L273.25,488.19 L279.90,488.13 L287.16,488.05 L294.55,487.95 L301.60,487.85 L307.83,487.73 L312.76,487.60 L316.48,487.47 L319.45,487.34 L321.83,487.21 L323.76,487.06 L325.37,486.89 L326.82,486.67 L328.24,486.40 L329.77,486.06 L331.30,485.67 L332.64,485.25 L333.83,484.79 L334.91,484.28 L335.92,483.71 L336.92,483.08 L337.93,482.37 L339.01,481.57 L340.14,480.62 L341.30,479.50 L342.45,478.26 L343.59,476.98 L344.71,475.71 L345.79,474.51 L346.81,473.45 L347.76,472.60 L348.60,471.93 L349.35,471.40 L350.03,470.97 L350.67,470.63 L351.32,470.37 L351.99,470.15 L352.74,469.97 L353.59,469.79 L354.55,469.67 L355.60,469.64 L356.72,469.66 L357.87,469.72 L359.03,469.79 L360.18,469.85 L361.29,469.85 L362.34,469.79 L363.32,469.65 L364.26,469.43 L365.18,469.18 L366.07,468.90 L366.96,468.63 L367.84,468.39 L368.72,468.21 L369.63,468.11 L370.54,468.10 L371.46,468.14 L372.38,468.24 L373.30,468.37 L374.22,468.53 L375.13,468.68 L376.03,468.83 L376.92,468.95 L377.79,469.09 L378.64,469.29 L379.48,469.50 L380.32,469.71 L381.15,469.87 L382.00,469.96 L382.85,469.94 L383.72,469.79 L384.58,469.51 L385.43,469.11 L386.27,468.62 L387.12,468.06 L388.01,467.43 L388.94,466.75 L389.93,466.04 L391.01,465.31 L392.18,464.54 L393.44,463.72 L394.77,462.85 L396.14,461.94 L397.54,461.00 L398.95,460.02 L400.34,459.03 L401.70,458.02 L403.06,456.98 L404.45,455.89 L405.86,454.78 L407.26,453.64 L408.63,452.48 L409.96,451.33 L411.22,450.18 L412.39,449.04 L413.47,447.88 L414.46,446.65 L415.38,445.40 L416.25,444.15 L417.10,442.96 L417.94,441.86 L418.80,440.88 L419.68,440.07 L420.60,439.47 L421.51,439.05 L422.42,438.78 L423.33,438.58 L424.24,438.42 L425.15,438.22 L426.06,437.95 L426.97,437.55 L427.90,437.06 L428.84,436.56 L429.79,436.04 L430.74,435.46 L431.67,434.81 L432.58,434.07 L433.45,433.21 L434.26,432.22 L435.04,431.06 L435.78,429.76 L436.50,428.33 L437.18,426.80 L437.83,425.23 L438.46,423.62 L439.05,422.01 L439.61,420.44 L440.12,418.97 L440.57,417.61 L440.99,416.27 L441.37,414.89 L441.75,413.40 L442.14,411.72 L442.55,409.80 L443.01,407.54 L443.54,404.74 L444.14,401.34 L444.77,397.59 L445.41,393.70 L446.02,389.92 L446.58,386.46 L447.04,383.57 L447.39,381.47" fill="none" stroke="#f01818" stroke-width="1.4" stroke-linejoin="round"/>
<path d="M263.68,488.30 L267.68,488.25 L273.25,488.19 L279.90,488.13 L287.16,488.05 L294.55,487.95 L301.60,487.85 L307.83,487.73 L312.76,487.60 L316.42,487.49 L319.25,487.41 L321.45,487.33 L323.21,487.24 L324.73,487.09 L326.20,486.87 L327.82,486.53 L329.77,486.06 L332.02,485.39 L334.36,484.53 L336.75,483.53 L339.13,482.47 L341.47,481.40 L343.72,480.39 L345.83,479.49 L347.76,478.77 L349.50,478.24 L351.09,477.85 L352.55,477.57 L353.92,477.35 L355.22,477.14 L356.47,476.92 L357.70,476.63 L358.93,476.24 L360.15,475.76 L361.33,475.24 L362.46,474.68 L363.55,474.09 L364.62,473.46 L365.65,472.82 L366.67,472.15 L367.68,471.48 L368.65,470.82 L369.57,470.18 L370.46,469.55 L371.33,468.88 L372.20,468.15 L373.08,467.34 L374.00,466.40 L374.97,465.31 L376.01,464.05 L377.09,462.65 L378.21,461.12 L379.35,459.51 L380.48,457.83 L381.60,456.11 L382.69,454.39 L383.72,452.69 L384.71,450.99 L385.68,449.27 L386.62,447.52 L387.55,445.75 L388.45,443.95 L389.32,442.12 L390.18,440.27 L391.01,438.39 L391.81,436.50 L392.56,434.60 L393.28,432.68 L393.99,430.73 L394.68,428.74 L395.38,426.70 L396.10,424.59 L396.84,422.41 L397.60,420.17 L398.35,417.90 L399.11,415.58 L399.88,413.21 L400.66,410.75 L401.47,408.20 L402.30,405.55 L403.16,402.78 L404.08,399.80 L405.05,396.59 L406.05,393.22 L407.08,389.79 L408.10,386.37 L409.09,383.04 L410.05,379.89 L410.94,376.98 L411.76,374.27 L412.55,371.64 L413.31,369.12 L414.03,366.73 L414.74,364.48 L415.42,362.39 L416.10,360.47 L416.77,358.76 L417.43,357.22 L418.06,355.85 L418.68,354.64 L419.29,353.60 L419.88,352.73 L420.47,352.04 L421.05,351.52 L421.63,351.18 L422.17,351.06 L422.68,351.16 L423.15,351.45 L423.63,351.90 L424.13,352.50 L424.68,353.20 L425.30,353.99 L426.00,354.83 L426.82,355.77 L427.75,356.85 L428.75,358.06 L429.80,359.35 L430.85,360.71 L431.89,362.11 L432.88,363.52 L433.78,364.92 L434.61,366.39 L435.40,367.98 L436.15,369.63 L436.88,371.30 L437.58,372.93 L438.27,374.45 L438.94,375.82 L439.61,376.98 L440.28,377.94 L440.94,378.77 L441.59,379.48 L442.22,380.07 L442.83,380.55 L443.41,380.94 L443.96,381.24 L444.47,381.47 L444.95,381.56 L445.40,381.50 L445.83,381.31 L446.23,381.05 L446.59,380.75 L446.91,380.46 L447.17,380.21 L447.39,380.07" fill="none" stroke="#1a1aff" stroke-width="1.4" stroke-linejoin="round"/>
</g>
<g clip-path="url(#c469)">
<path d="M469.40,488.20 L470.10,487.23 L471.01,486.04 L472.10,484.63 L473.31,483.01 L474.62,481.18 L475.97,479.14 L477.32,476.90 L478.62,474.46 L479.93,471.76 L481.29,468.79 L482.69,465.58 L484.12,462.18 L485.55,458.63 L486.99,454.97 L488.41,451.27 L489.79,447.54 L491.17,443.69 L492.55,439.61 L493.94,435.40 L495.31,431.12 L496.67,426.86 L497.98,422.71 L499.26,418.73 L500.47,415.02 L501.65,411.48 L502.81,408.02 L503.94,404.67 L505.02,401.45 L506.06,398.41 L507.03,395.56 L507.92,392.96 L508.73,390.62 L509.42,388.60 L510.00,386.90 L510.50,385.45 L510.94,384.19 L511.35,383.07 L511.74,382.03 L512.15,381.02 L512.61,379.97 L513.09,378.92 L513.57,377.93 L514.04,377.02 L514.52,376.16 L515.00,375.36 L515.49,374.61 L515.98,373.90 L516.49,373.24 L517.02,372.61 L517.56,372.04 L518.12,371.51 L518.68,371.03 L519.24,370.60 L519.79,370.21 L520.34,369.88 L520.86,369.59 L521.34,369.37 L521.77,369.21 L522.16,369.11 L522.56,369.05 L522.99,369.02 L523.48,369.02 L524.06,369.03 L524.75,369.03 L525.58,369.10 L526.54,369.28 L527.59,369.50 L528.69,369.73 L529.82,369.91 L530.94,369.98 L532.01,369.89 L533.00,369.59 L533.92,369.04 L534.81,368.25 L535.68,367.31 L536.52,366.26 L537.35,365.17 L538.17,364.11 L538.98,363.13 L539.80,362.30 L540.56,361.52 L541.25,360.67 L541.90,359.83 L542.56,359.06 L543.27,358.41 L544.06,357.94 L545.00,357.73 L546.11,357.81 L547.45,358.24 L548.99,358.95 L550.68,359.90 L552.45,361.04 L554.25,362.32 L556.02,363.69 L557.70,365.10 L559.22,366.51 L560.60,367.89 L561.91,369.30 L563.15,370.76 L564.35,372.31 L565.51,373.97 L566.65,375.78 L567.78,377.77 L568.93,379.97 L570.07,382.49 L571.18,385.35 L572.28,388.44 L573.36,391.65 L574.43,394.88 L575.50,398.01 L576.58,400.92 L577.67,403.52 L578.79,405.87 L579.95,408.10 L581.14,410.20 L582.31,412.16 L583.45,413.97 L584.53,415.62 L585.52,417.09 L586.41,418.38 L587.14,419.49 L587.73,420.42 L588.21,421.18 L588.65,421.78 L589.08,422.22 L589.55,422.49 L590.10,422.62 L590.77,422.59 L591.57,422.40 L592.42,422.06 L593.33,421.56 L594.29,420.90 L595.30,420.09 L596.35,419.12 L597.43,417.99 L598.54,416.70 L599.70,415.23 L600.92,413.56 L602.19,411.71 L603.49,409.72 L604.81,407.60 L606.13,405.38 L607.45,403.08 L608.74,400.72 L609.98,398.29 L611.17,395.78 L612.35,393.18 L613.53,390.48 L614.76,387.68 L616.04,384.76 L617.43,381.72 L618.93,378.56 L620.67,375.08 L622.64,371.18 L624.76,367.06 L626.91,362.88 L629.02,358.82 L630.96,355.06 L632.65,351.76 L633.98,349.12 L634.95,347.15 L635.63,345.68 L636.09,344.64 L636.38,343.92 L636.55,343.42 L636.66,343.07 L636.76,342.76 L636.90,342.39" fill="none" stroke="#111" stroke-width="1.4" stroke-linejoin="round"/>
<path d="M469.40,488.20 L470.10,487.45 L471.01,486.55 L472.10,485.49 L473.31,484.26 L474.62,482.83 L475.97,481.20 L477.32,479.35 L478.62,477.26 L479.90,474.93 L481.20,472.36 L482.52,469.57 L483.87,466.57 L485.27,463.39 L486.71,460.03 L488.22,456.52 L489.79,452.87 L491.47,448.89 L493.27,444.48 L495.15,439.80 L497.07,435.01 L498.99,430.26 L500.87,425.71 L502.67,421.51 L504.36,417.82 L505.96,414.56 L507.56,411.55 L509.11,408.78 L510.61,406.27 L512.02,404.01 L513.32,402.00 L514.50,400.25 L515.52,398.75 L516.36,397.62 L517.03,396.90 L517.56,396.50 L517.98,396.32 L518.34,396.26 L518.67,396.25 L519.02,396.17 L519.41,395.95 L519.81,395.66 L520.18,395.43 L520.53,395.23 L520.86,395.02 L521.20,394.77 L521.55,394.44 L521.92,394.01 L522.32,393.42 L522.76,392.66 L523.22,391.72 L523.70,390.66 L524.20,389.53 L524.70,388.38 L525.21,387.26 L525.71,386.21 L526.20,385.29 L526.65,384.57 L527.04,384.02 L527.40,383.57 L527.78,383.14 L528.20,382.64 L528.71,382.00 L529.32,381.14 L530.09,379.97 L531.05,378.37 L532.19,376.36 L533.45,374.09 L534.79,371.69 L536.15,369.32 L537.47,367.10 L538.71,365.18 L539.80,363.70 L540.70,362.64 L541.46,361.86 L542.11,361.31 L542.74,360.95 L543.39,360.74 L544.13,360.65 L545.02,360.62 L546.11,360.62 L547.45,360.63 L549.00,360.69 L550.70,360.82 L552.48,361.06 L554.29,361.43 L556.05,361.98 L557.72,362.72 L559.22,363.70 L560.58,364.92 L561.86,366.36 L563.09,368.00 L564.25,369.80 L565.37,371.76 L566.43,373.84 L567.45,376.02 L568.44,378.28 L569.37,380.69 L570.24,383.29 L571.04,386.04 L571.81,388.89 L572.55,391.80 L573.28,394.72 L574.01,397.61 L574.75,400.43 L575.48,403.27 L576.14,406.20 L576.78,409.17 L577.42,412.12 L578.10,415.00 L578.83,417.74 L579.65,420.29 L580.58,422.59 L581.64,424.76 L582.81,426.90 L584.06,428.94 L585.37,430.81 L586.72,432.41 L588.09,433.69 L589.45,434.55 L590.77,434.92 L592.06,434.81 L593.32,434.29 L594.57,433.39 L595.84,432.14 L597.14,430.57 L598.50,428.71 L599.93,426.60 L601.46,424.27 L603.11,421.57 L604.89,418.42 L606.76,414.92 L608.68,411.18 L610.60,407.30 L612.49,403.40 L614.31,399.58 L616.02,395.95 L617.57,392.40 L618.99,388.79 L620.33,385.16 L621.63,381.56 L622.97,378.02 L624.38,374.58 L625.93,371.29 L627.67,368.19 L629.72,365.18 L632.06,362.20 L634.59,359.30 L637.17,356.53 L639.69,353.96 L642.02,351.65 L644.04,349.64 L645.64,348.00 L646.78,346.80 L647.59,346.01 L648.13,345.55 L648.46,345.34 L648.65,345.28 L648.77,345.29 L648.87,345.29 L649.03,345.20" fill="none" stroke="#f01818" stroke-width="1.4" stroke-linejoin="round"/>
<path d="M469.40,488.20 L470.10,487.56 L471.01,486.80 L472.10,485.91 L473.31,484.87 L474.62,483.65 L475.97,482.22 L477.32,480.57 L478.62,478.67 L479.93,476.45 L481.29,473.90 L482.69,471.09 L484.12,468.10 L485.55,464.99 L486.99,461.84 L488.41,458.71 L489.79,455.67 L491.20,452.58 L492.68,449.29 L494.17,445.91 L495.65,442.55 L497.06,439.30 L498.36,436.27 L499.51,433.56 L500.47,431.28 L501.21,429.46 L501.76,428.04 L502.15,426.92 L502.44,426.02 L502.67,425.28 L502.87,424.60 L503.10,423.92 L503.38,423.15 L503.71,422.32 L504.01,421.54 L504.31,420.80 L504.60,420.10 L504.89,419.45 L505.18,418.85 L505.49,418.31 L505.81,417.82 L506.15,417.41 L506.48,417.07 L506.83,416.79 L507.18,416.56 L507.54,416.36 L507.92,416.19 L508.31,416.03 L508.73,415.86 L509.16,415.69 L509.63,415.53 L510.11,415.39 L510.61,415.26 L511.11,415.16 L511.62,415.08 L512.12,415.03 L512.61,415.02 L513.08,415.04 L513.53,415.09 L513.98,415.18 L514.43,415.30 L514.89,415.43 L515.39,415.57 L515.92,415.71 L516.49,415.86 L517.10,416.02 L517.70,416.22 L518.32,416.44 L518.98,416.66 L519.69,416.87 L520.48,417.05 L521.35,417.19 L522.32,417.26 L523.43,417.28 L524.66,417.27 L525.99,417.22 L527.39,417.14 L528.82,417.02 L530.25,416.86 L531.66,416.66 L533.00,416.42 L534.31,416.06 L535.62,415.56 L536.92,414.97 L538.22,414.37 L539.50,413.81 L540.76,413.36 L541.99,413.09 L543.20,413.05 L544.35,413.30 L545.45,413.79 L546.52,414.45 L547.57,415.23 L548.62,416.04 L549.68,416.84 L550.78,417.55 L551.93,418.10 L553.18,418.50 L554.53,418.82 L555.93,419.07 L557.34,419.29 L558.71,419.50 L559.99,419.73 L561.15,420.00 L562.13,420.34 L562.85,420.68 L563.33,420.96 L563.64,421.22 L563.89,421.53 L564.16,421.94 L564.54,422.50 L565.13,423.26 L566.01,424.27 L567.23,425.73 L568.71,427.68 L570.38,429.92 L572.17,432.26 L574.02,434.52 L575.83,436.49 L577.56,438.00 L579.12,438.85 L580.50,439.14 L581.76,439.08 L582.95,438.69 L584.10,437.96 L585.27,436.88 L586.50,435.45 L587.83,433.68 L589.32,431.56 L590.99,428.93 L592.82,425.72 L594.76,422.08 L596.75,418.14 L598.76,414.03 L600.73,409.90 L602.62,405.88 L604.37,402.12 L605.98,398.42 L607.49,394.59 L608.92,390.72 L610.32,386.91 L611.69,383.24 L613.09,379.81 L614.52,376.73 L616.02,374.08 L617.57,371.97 L619.12,370.37 L620.68,369.13 L622.27,368.12 L623.90,367.21 L625.58,366.26 L627.32,365.13 L629.13,363.70 L631.12,361.91 L633.32,359.85 L635.65,357.64 L637.99,355.38 L640.26,353.18 L642.35,351.14 L644.18,349.38 L645.64,348.00 L646.71,347.01 L647.49,346.33 L648.02,345.88 L648.37,345.62 L648.59,345.48 L648.73,345.40 L648.86,345.32 L649.03,345.20" fill="none" stroke="#1a1aff" stroke-width="1.4" stroke-linejoin="round"/>
</g>
<rect x="35.8" y="348.1" width="194.6" height="140.2" fill="none" stroke="#505050" stroke-width="1"/>
<line x1="35.80" y1="488.30" x2="35.80" y2="490.80" stroke="#505050" stroke-width="1"/>
<line x1="35.80" y1="348.10" x2="35.80" y2="350.60" stroke="#505050" stroke-width="1"/>
<text x="35.8" y="502.8" text-anchor="middle" font-size="12" >0</text>
<line x1="60.10" y1="488.30" x2="60.10" y2="489.60" stroke="#505050" stroke-width="1"/>
<line x1="60.10" y1="348.10" x2="60.10" y2="349.40" stroke="#505050" stroke-width="1"/>
<line x1="84.40" y1="488.30" x2="84.40" y2="490.80" stroke="#505050" stroke-width="1"/>
<line x1="84.40" y1="348.10" x2="84.40" y2="350.60" stroke="#505050" stroke-width="1"/>
<text x="84.4" y="502.8" text-anchor="middle" font-size="12" >1</text>
<line x1="108.70" y1="488.30" x2="108.70" y2="489.60" stroke="#505050" stroke-width="1"/>
<line x1="108.70" y1="348.10" x2="108.70" y2="349.40" stroke="#505050" stroke-width="1"/>
<line x1="133.00" y1="488.30" x2="133.00" y2="490.80" stroke="#505050" stroke-width="1"/>
<line x1="133.00" y1="348.10" x2="133.00" y2="350.60" stroke="#505050" stroke-width="1"/>
<text x="133.0" y="502.8" text-anchor="middle" font-size="12" >2</text>
<line x1="157.30" y1="488.30" x2="157.30" y2="489.60" stroke="#505050" stroke-width="1"/>
<line x1="157.30" y1="348.10" x2="157.30" y2="349.40" stroke="#505050" stroke-width="1"/>
<line x1="181.60" y1="488.30" x2="181.60" y2="490.80" stroke="#505050" stroke-width="1"/>
<line x1="181.60" y1="348.10" x2="181.60" y2="350.60" stroke="#505050" stroke-width="1"/>
<text x="181.6" y="502.8" text-anchor="middle" font-size="12" >3</text>
<line x1="205.90" y1="488.30" x2="205.90" y2="489.60" stroke="#505050" stroke-width="1"/>
<line x1="205.90" y1="348.10" x2="205.90" y2="349.40" stroke="#505050" stroke-width="1"/>
<line x1="230.20" y1="488.30" x2="230.20" y2="490.80" stroke="#505050" stroke-width="1"/>
<line x1="230.20" y1="348.10" x2="230.20" y2="350.60" stroke="#505050" stroke-width="1"/>
<text x="230.2" y="502.8" text-anchor="middle" font-size="12" >4</text>
<line x1="33.30" y1="488.30" x2="35.80" y2="488.30" stroke="#505050" stroke-width="1"/>
<line x1="227.90" y1="488.30" x2="230.40" y2="488.30" stroke="#505050" stroke-width="1"/>
<text x="30.8" y="492.4" text-anchor="end" font-size="12" >0</text>
<line x1="34.50" y1="474.28" x2="35.80" y2="474.28" stroke="#505050" stroke-width="1"/>
<line x1="229.10" y1="474.28" x2="230.40" y2="474.28" stroke="#505050" stroke-width="1"/>
<line x1="33.30" y1="460.26" x2="35.80" y2="460.26" stroke="#505050" stroke-width="1"/>
<line x1="227.90" y1="460.26" x2="230.40" y2="460.26" stroke="#505050" stroke-width="1"/>
<text x="30.8" y="464.4" text-anchor="end" font-size="12" >10</text>
<line x1="34.50" y1="446.24" x2="35.80" y2="446.24" stroke="#505050" stroke-width="1"/>
<line x1="229.10" y1="446.24" x2="230.40" y2="446.24" stroke="#505050" stroke-width="1"/>
<line x1="33.30" y1="432.22" x2="35.80" y2="432.22" stroke="#505050" stroke-width="1"/>
<line x1="227.90" y1="432.22" x2="230.40" y2="432.22" stroke="#505050" stroke-width="1"/>
<text x="30.8" y="436.3" text-anchor="end" font-size="12" >20</text>
<line x1="34.50" y1="418.20" x2="35.80" y2="418.20" stroke="#505050" stroke-width="1"/>
<line x1="229.10" y1="418.20" x2="230.40" y2="418.20" stroke="#505050" stroke-width="1"/>
<line x1="33.30" y1="404.18" x2="35.80" y2="404.18" stroke="#505050" stroke-width="1"/>
<line x1="227.90" y1="404.18" x2="230.40" y2="404.18" stroke="#505050" stroke-width="1"/>
<text x="30.8" y="408.3" text-anchor="end" font-size="12" >30</text>
<line x1="34.50" y1="390.16" x2="35.80" y2="390.16" stroke="#505050" stroke-width="1"/>
<line x1="229.10" y1="390.16" x2="230.40" y2="390.16" stroke="#505050" stroke-width="1"/>
<line x1="33.30" y1="376.14" x2="35.80" y2="376.14" stroke="#505050" stroke-width="1"/>
<line x1="227.90" y1="376.14" x2="230.40" y2="376.14" stroke="#505050" stroke-width="1"/>
<text x="30.8" y="380.2" text-anchor="end" font-size="12" >40</text>
<line x1="34.50" y1="362.12" x2="35.80" y2="362.12" stroke="#505050" stroke-width="1"/>
<line x1="229.10" y1="362.12" x2="230.40" y2="362.12" stroke="#505050" stroke-width="1"/>
<line x1="33.30" y1="348.10" x2="35.80" y2="348.10" stroke="#505050" stroke-width="1"/>
<line x1="227.90" y1="348.10" x2="230.40" y2="348.10" stroke="#505050" stroke-width="1"/>
<text x="30.8" y="352.2" text-anchor="end" font-size="12" >50</text>
<text x="133.1" y="521.8" text-anchor="middle" font-size="12" >Energy [eV]</text>
<rect x="252.5" y="348.1" width="194.5" height="140.2" fill="none" stroke="#505050" stroke-width="1"/>
<line x1="252.50" y1="488.30" x2="252.50" y2="490.80" stroke="#505050" stroke-width="1"/>
<line x1="252.50" y1="348.10" x2="252.50" y2="350.60" stroke="#505050" stroke-width="1"/>
<text x="252.5" y="502.8" text-anchor="middle" font-size="12" >0</text>
<line x1="276.80" y1="488.30" x2="276.80" y2="489.60" stroke="#505050" stroke-width="1"/>
<line x1="276.80" y1="348.10" x2="276.80" y2="349.40" stroke="#505050" stroke-width="1"/>
<line x1="301.10" y1="488.30" x2="301.10" y2="490.80" stroke="#505050" stroke-width="1"/>
<line x1="301.10" y1="348.10" x2="301.10" y2="350.60" stroke="#505050" stroke-width="1"/>
<text x="301.1" y="502.8" text-anchor="middle" font-size="12" >1</text>
<line x1="325.40" y1="488.30" x2="325.40" y2="489.60" stroke="#505050" stroke-width="1"/>
<line x1="325.40" y1="348.10" x2="325.40" y2="349.40" stroke="#505050" stroke-width="1"/>
<line x1="349.70" y1="488.30" x2="349.70" y2="490.80" stroke="#505050" stroke-width="1"/>
<line x1="349.70" y1="348.10" x2="349.70" y2="350.60" stroke="#505050" stroke-width="1"/>
<text x="349.7" y="502.8" text-anchor="middle" font-size="12" >2</text>
<line x1="374.00" y1="488.30" x2="374.00" y2="489.60" stroke="#505050" stroke-width="1"/>
<line x1="374.00" y1="348.10" x2="374.00" y2="349.40" stroke="#505050" stroke-width="1"/>
<line x1="398.30" y1="488.30" x2="398.30" y2="490.80" stroke="#505050" stroke-width="1"/>
<line x1="398.30" y1="348.10" x2="398.30" y2="350.60" stroke="#505050" stroke-width="1"/>
<text x="398.3" y="502.8" text-anchor="middle" font-size="12" >3</text>
<line x1="422.60" y1="488.30" x2="422.60" y2="489.60" stroke="#505050" stroke-width="1"/>
<line x1="422.60" y1="348.10" x2="422.60" y2="349.40" stroke="#505050" stroke-width="1"/>
<line x1="446.90" y1="488.30" x2="446.90" y2="490.80" stroke="#505050" stroke-width="1"/>
<line x1="446.90" y1="348.10" x2="446.90" y2="350.60" stroke="#505050" stroke-width="1"/>
<text x="446.9" y="502.8" text-anchor="middle" font-size="12" >4</text>
<line x1="250.00" y1="488.30" x2="252.50" y2="488.30" stroke="#505050" stroke-width="1"/>
<line x1="444.50" y1="488.30" x2="447.00" y2="488.30" stroke="#505050" stroke-width="1"/>
<line x1="251.20" y1="474.28" x2="252.50" y2="474.28" stroke="#505050" stroke-width="1"/>
<line x1="445.70" y1="474.28" x2="447.00" y2="474.28" stroke="#505050" stroke-width="1"/>
<line x1="250.00" y1="460.26" x2="252.50" y2="460.26" stroke="#505050" stroke-width="1"/>
<line x1="444.50" y1="460.26" x2="447.00" y2="460.26" stroke="#505050" stroke-width="1"/>
<line x1="251.20" y1="446.24" x2="252.50" y2="446.24" stroke="#505050" stroke-width="1"/>
<line x1="445.70" y1="446.24" x2="447.00" y2="446.24" stroke="#505050" stroke-width="1"/>
<line x1="250.00" y1="432.22" x2="252.50" y2="432.22" stroke="#505050" stroke-width="1"/>
<line x1="444.50" y1="432.22" x2="447.00" y2="432.22" stroke="#505050" stroke-width="1"/>
<line x1="251.20" y1="418.20" x2="252.50" y2="418.20" stroke="#505050" stroke-width="1"/>
<line x1="445.70" y1="418.20" x2="447.00" y2="418.20" stroke="#505050" stroke-width="1"/>
<line x1="250.00" y1="404.18" x2="252.50" y2="404.18" stroke="#505050" stroke-width="1"/>
<line x1="444.50" y1="404.18" x2="447.00" y2="404.18" stroke="#505050" stroke-width="1"/>
<line x1="251.20" y1="390.16" x2="252.50" y2="390.16" stroke="#505050" stroke-width="1"/>
<line x1="445.70" y1="390.16" x2="447.00" y2="390.16" stroke="#505050" stroke-width="1"/>
<line x1="250.00" y1="376.14" x2="252.50" y2="376.14" stroke="#505050" stroke-width="1"/>
<line x1="444.50" y1="376.14" x2="447.00" y2="376.14" stroke="#505050" stroke-width="1"/>
<line x1="251.20" y1="362.12" x2="252.50" y2="362.12" stroke="#505050" stroke-width="1"/>
<line x1="445.70" y1="362.12" x2="447.00" y2="362.12" stroke="#505050" stroke-width="1"/>
<line x1="250.00" y1="348.10" x2="252.50" y2="348.10" stroke="#505050" stroke-width="1"/>
<line x1="444.50" y1="348.10" x2="447.00" y2="348.10" stroke="#505050" stroke-width="1"/>
<text x="349.8" y="521.8" text-anchor="middle" font-size="12" >Energy (eV)</text>
<rect x="469.4" y="348.0" width="194.8" height="140.2" fill="none" stroke="#505050" stroke-width="1"/>
<line x1="469.40" y1="488.20" x2="469.40" y2="490.70" stroke="#505050" stroke-width="1"/>
<line x1="469.40" y1="348.00" x2="469.40" y2="350.50" stroke="#505050" stroke-width="1"/>
<text x="469.4" y="502.8" text-anchor="middle" font-size="12" >0</text>
<line x1="493.67" y1="488.20" x2="493.67" y2="489.50" stroke="#505050" stroke-width="1"/>
<line x1="493.67" y1="348.00" x2="493.67" y2="349.30" stroke="#505050" stroke-width="1"/>
<line x1="517.95" y1="488.20" x2="517.95" y2="490.70" stroke="#505050" stroke-width="1"/>
<line x1="517.95" y1="348.00" x2="517.95" y2="350.50" stroke="#505050" stroke-width="1"/>
<text x="517.9" y="502.8" text-anchor="middle" font-size="12" >1</text>
<line x1="542.22" y1="488.20" x2="542.22" y2="489.50" stroke="#505050" stroke-width="1"/>
<line x1="542.22" y1="348.00" x2="542.22" y2="349.30" stroke="#505050" stroke-width="1"/>
<line x1="566.50" y1="488.20" x2="566.50" y2="490.70" stroke="#505050" stroke-width="1"/>
<line x1="566.50" y1="348.00" x2="566.50" y2="350.50" stroke="#505050" stroke-width="1"/>
<text x="566.5" y="502.8" text-anchor="middle" font-size="12" >2</text>
<line x1="590.77" y1="488.20" x2="590.77" y2="489.50" stroke="#505050" stroke-width="1"/>
<line x1="590.77" y1="348.00" x2="590.77" y2="349.30" stroke="#505050" stroke-width="1"/>
<line x1="615.05" y1="488.20" x2="615.05" y2="490.70" stroke="#505050" stroke-width="1"/>
<line x1="615.05" y1="348.00" x2="615.05" y2="350.50" stroke="#505050" stroke-width="1"/>
<text x="615.0" y="502.8" text-anchor="middle" font-size="12" >3</text>
<line x1="639.32" y1="488.20" x2="639.32" y2="489.50" stroke="#505050" stroke-width="1"/>
<line x1="639.32" y1="348.00" x2="639.32" y2="349.30" stroke="#505050" stroke-width="1"/>
<line x1="663.60" y1="488.20" x2="663.60" y2="490.70" stroke="#505050" stroke-width="1"/>
<line x1="663.60" y1="348.00" x2="663.60" y2="350.50" stroke="#505050" stroke-width="1"/>
<text x="663.6" y="502.8" text-anchor="middle" font-size="12" >4</text>
<line x1="466.90" y1="488.20" x2="469.40" y2="488.20" stroke="#505050" stroke-width="1"/>
<line x1="661.70" y1="488.20" x2="664.20" y2="488.20" stroke="#505050" stroke-width="1"/>
<line x1="468.10" y1="474.18" x2="469.40" y2="474.18" stroke="#505050" stroke-width="1"/>
<line x1="662.90" y1="474.18" x2="664.20" y2="474.18" stroke="#505050" stroke-width="1"/>
<line x1="466.90" y1="460.16" x2="469.40" y2="460.16" stroke="#505050" stroke-width="1"/>
<line x1="661.70" y1="460.16" x2="664.20" y2="460.16" stroke="#505050" stroke-width="1"/>
<line x1="468.10" y1="446.14" x2="469.40" y2="446.14" stroke="#505050" stroke-width="1"/>
<line x1="662.90" y1="446.14" x2="664.20" y2="446.14" stroke="#505050" stroke-width="1"/>
<line x1="466.90" y1="432.12" x2="469.40" y2="432.12" stroke="#505050" stroke-width="1"/>
<line x1="661.70" y1="432.12" x2="664.20" y2="432.12" stroke="#505050" stroke-width="1"/>
<line x1="468.10" y1="418.10" x2="469.40" y2="418.10" stroke="#505050" stroke-width="1"/>
<line x1="662.90" y1="418.10" x2="664.20" y2="418.10" stroke="#505050" stroke-width="1"/>
<line x1="466.90" y1="404.08" x2="469.40" y2="404.08" stroke="#505050" stroke-width="1"/>
<line x1="661.70" y1="404.08" x2="664.20" y2="404.08" stroke="#505050" stroke-width="1"/>
<line x1="468.10" y1="390.06" x2="469.40" y2="390.06" stroke="#505050" stroke-width="1"/>
<line x1="662.90" y1="390.06" x2="664.20" y2="390.06" stroke="#505050" stroke-width="1"/>
<line x1="466.90" y1="376.04" x2="469.40" y2="376.04" stroke="#505050" stroke-width="1"/>
<line x1="661.70" y1="376.04" x2="664.20" y2="376.04" stroke="#505050" stroke-width="1"/>
<line x1="468.10" y1="362.02" x2="469.40" y2="362.02" stroke="#505050" stroke-width="1"/>
<line x1="662.90" y1="362.02" x2="664.20" y2="362.02" stroke="#505050" stroke-width="1"/>
<line x1="466.90" y1="348.00" x2="469.40" y2="348.00" stroke="#505050" stroke-width="1"/>
<line x1="661.70" y1="348.00" x2="664.20" y2="348.00" stroke="#505050" stroke-width="1"/>
<text x="566.8" y="521.8" text-anchor="middle" font-size="12" >Energy (eV)</text>
<text transform="translate(15.0,418.3) rotate(-90)" text-anchor="middle" font-size="12">absorption [10<tspan font-size="7.5" dy="-4">4</tspan><tspan dy="4">/cm]</tspan></text>
<text x="38.3" y="362.8" text-anchor="start" font-size="12" >CuO</text>
<text x="47.6" y="380.0" text-anchor="start" font-size="12" >d)</text>
<text x="257" y="362.8" font-size="12">Cu<tspan font-size="8.2" dy="3.3">15/16</tspan><tspan dy="-3.3">Cr</tspan><tspan font-size="8.2" dy="3.3">1/16</tspan><tspan dy="-3.3">O</tspan></text>
<text x="266.9" y="380.0" text-anchor="start" font-size="12" >e)</text>
<text x="471" y="359.5" font-size="12">Cu<tspan font-size="8.2" dy="3.3">7/8</tspan><tspan dy="-3.3">Cr</tspan><tspan font-size="8.2" dy="3.3">1/8</tspan><tspan dy="-3.3">O</tspan></text>
<text x="485.3" y="380.0" text-anchor="start" font-size="12" >f)</text>
<line x1="127.90" y1="369.10" x2="155.20" y2="369.10" stroke="#111" stroke-width="1.3"/>
<text x="158.7" y="373.1" text-anchor="start" font-size="12" >x</text>
<line x1="127.90" y1="384.40" x2="155.20" y2="384.40" stroke="#f01818" stroke-width="1.3"/>
<text x="158.7" y="388.4" text-anchor="start" font-size="12" >y</text>
<line x1="127.90" y1="398.70" x2="155.20" y2="398.70" stroke="#1a1aff" stroke-width="1.3"/>
<text x="158.7" y="402.7" text-anchor="start" font-size="12" >z</text>
<line x1="166.40" y1="361.70" x2="166.40" y2="406.40" stroke="#d8d8d8" stroke-width="1"/>
<line x1="344.20" y1="368.10" x2="371.40" y2="368.10" stroke="#111" stroke-width="1.3"/>
<text x="375.0" y="372.1" text-anchor="start" font-size="12" >x</text>
<line x1="344.20" y1="383.50" x2="371.40" y2="383.50" stroke="#f01818" stroke-width="1.3"/>
<text x="375.0" y="387.5" text-anchor="start" font-size="12" >y</text>
<line x1="344.20" y1="398.20" x2="371.40" y2="398.20" stroke="#1a1aff" stroke-width="1.3"/>
<text x="375.0" y="402.2" text-anchor="start" font-size="12" >z</text>
<line x1="382.60" y1="359.00" x2="382.60" y2="405.00" stroke="#d8d8d8" stroke-width="1"/>
<line x1="607.20" y1="443.90" x2="633.80" y2="443.90" stroke="#111" stroke-width="1.3"/>
<text x="638.2" y="447.9" text-anchor="start" font-size="12" >x</text>
<line x1="607.20" y1="458.90" x2="633.80" y2="458.90" stroke="#f01818" stroke-width="1.3"/>
<text x="638.2" y="462.9" text-anchor="start" font-size="12" >y</text>
<line x1="607.20" y1="474.30" x2="633.80" y2="474.30" stroke="#1a1aff" stroke-width="1.3"/>
<text x="638.2" y="478.3" text-anchor="start" font-size="12" >z</text>
</svg></body></html>
